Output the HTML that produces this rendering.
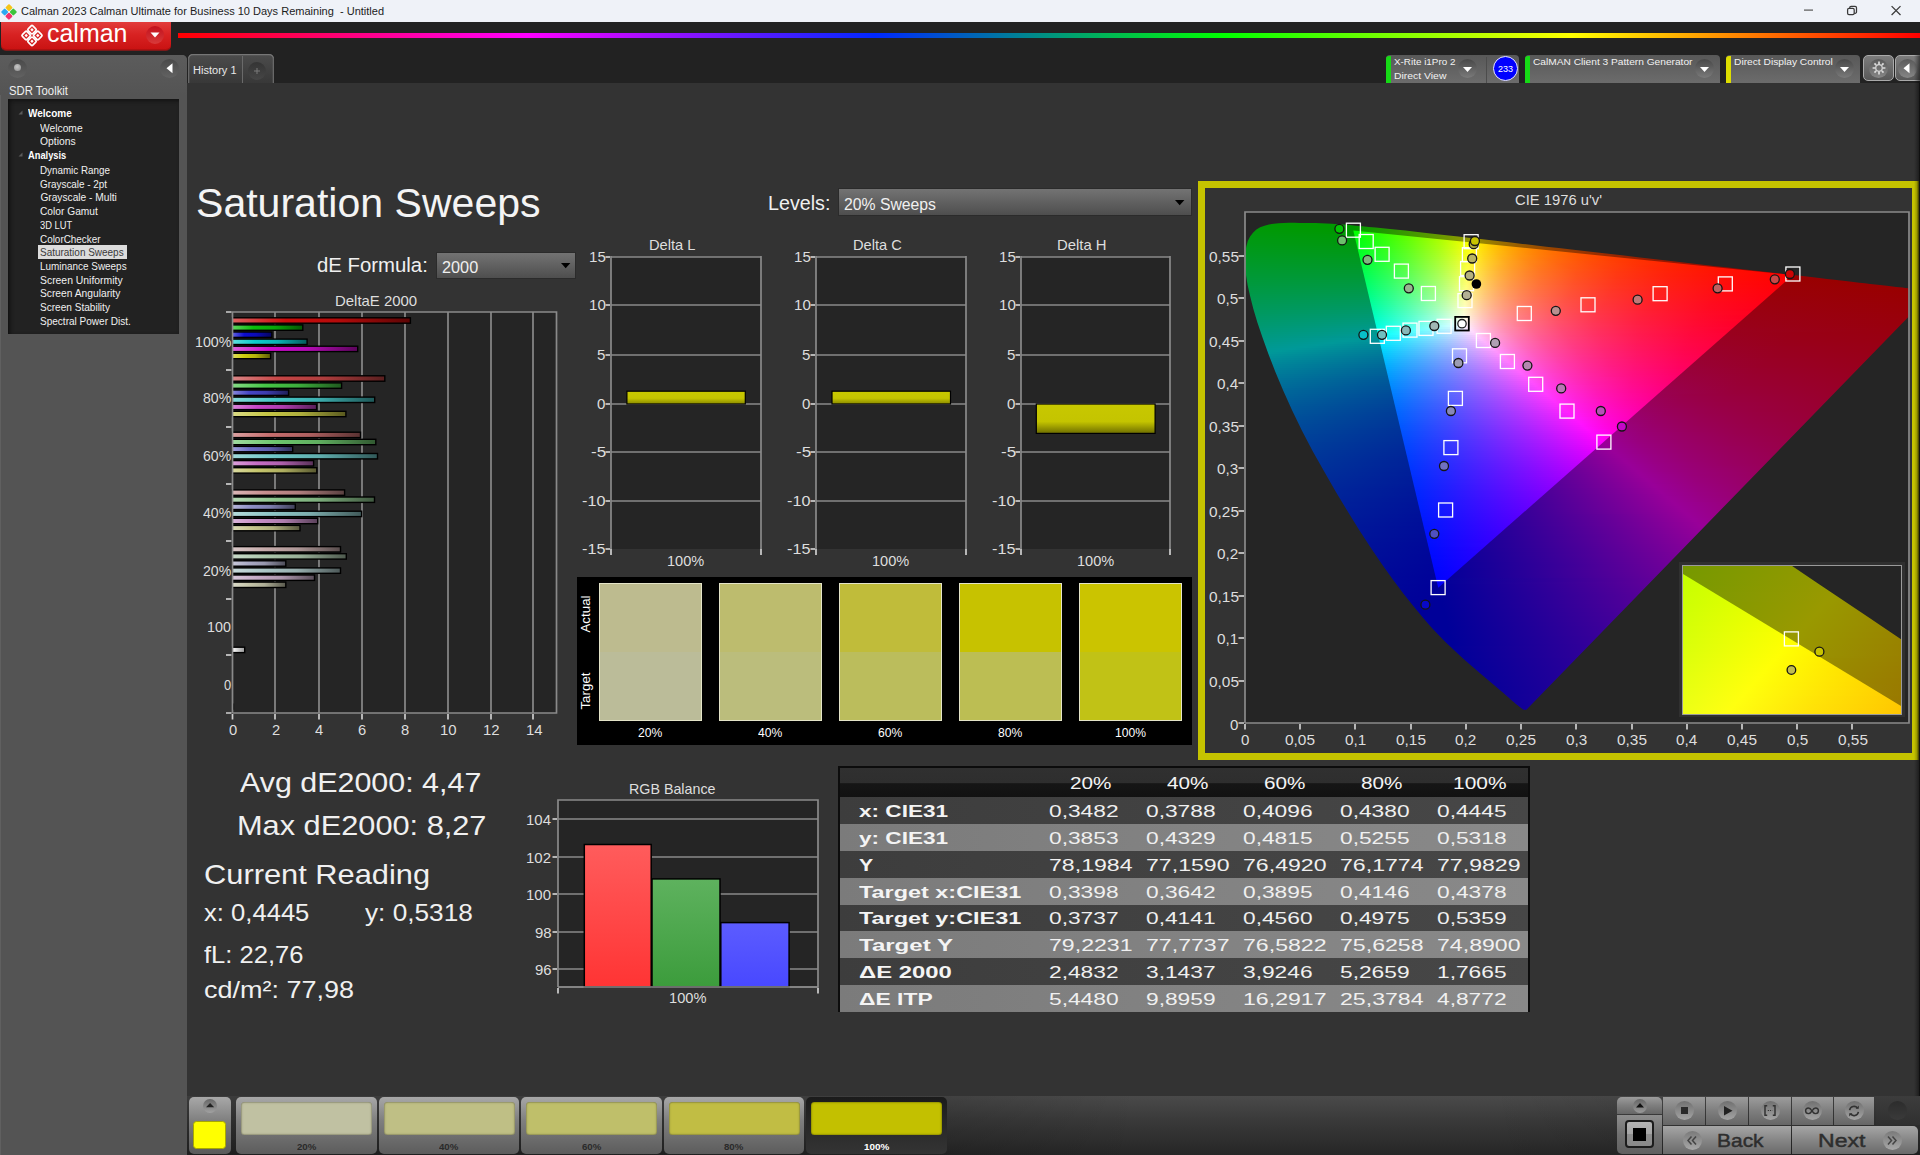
<!DOCTYPE html>
<html><head><meta charset="utf-8"><title>Calman</title>
<style>
html,body{margin:0;padding:0;background:#333;overflow:hidden}
body{width:1920px;height:1155px;position:relative;font-family:"Liberation Sans",sans-serif;color:#e2e2e2}
.a,.t,i,b,u,s{position:absolute;display:block}
.t{white-space:pre;transform-origin:0 50%;line-height:1}
svg{position:absolute;overflow:visible}
.rw i{position:static;display:block;height:2px;width:100%}

</style></head>
<body>
<div class="a" style="left:0;top:0;width:1920px;height:22px;background:#eff2f8"></div>
<svg style="left:1px;top:3.5px" width="16" height="16" viewBox="0 0 16 16">
<rect x="5.2" y="1.0" width="5.4" height="5.4" rx="1" transform="rotate(45 8 3.8)" fill="#f5c518"/>
<rect x="1.0" y="5.3" width="5.4" height="5.4" rx="1" transform="rotate(45 3.7 8)" fill="#2aa8f0"/>
<rect x="9.6" y="5.3" width="5.4" height="5.4" rx="1" transform="rotate(45 12.3 8)" fill="#3cc43c"/>
<rect x="5.2" y="9.6" width="5.4" height="5.4" rx="1" transform="rotate(45 8 12.3)" fill="#f0306c"/>
</svg>
<span class="t" style="left:20.8px;top:5.54px;font-size:11.31px;color:#1c1c1c;transform:scaleX(0.975)">Calman 2023 Calman Ultimate for Business 10 Days Remaining  - Untitled</span>
<svg style="left:1795px;top:0" width="125" height="22" viewBox="0 0 125 22" fill="none" stroke="#3a3a3a" stroke-width="1.25">
<path d="M9 10.100h9" stroke="#5a5a5a"/>
<rect x="52.600" y="8.300" width="6.600" height="6.400" rx="1.400"/><path d="M54.700 8.300v-0.600a1.400 1.400 0 0 1 1.400-1.400h4a1.400 1.400 0 0 1 1.400 1.400v4.200a1.400 1.400 0 0 1-1.400 1.400h-0.900"/>
<path d="M96.600 6.100l8.900 8.900M105.500 6.100l-8.900 8.900"/>
</svg>
<div class="a" style="left:0;top:22px;width:1920px;height:61px;background:#222"></div>
<div class="a" style="left:178px;top:33px;width:1742px;height:5px;background:linear-gradient(90deg,#ff0000 0%,#ff00ff 20%,#0028ff 40%,#00ff00 60%,#ffff00 80%,#ff0000 100%)"></div>
<div class="a" style="left:1px;top:22px;width:170px;height:28px;border-radius:0 0 5px 5px;background:linear-gradient(#e23c3c,#d82222 45%,#c91212);box-shadow:0 1px 0 #7a1a1a, inset 0 -1px 0 #b01010"></div>
<svg style="left:20px;top:24px" width="24" height="24" viewBox="0 0 24 24" fill="none" stroke="#fff" stroke-width="1.7">
<g transform="rotate(45 12 11.5)"><rect x="4.6" y="4.1" width="6.6" height="6.6" rx="1.2"/><rect x="12.8" y="4.1" width="6.6" height="6.6" rx="1.2"/><rect x="4.6" y="12.3" width="6.6" height="6.6" rx="1.2"/><rect x="12.8" y="12.3" width="6.6" height="6.6" rx="1.2"/><g fill="#fff" stroke="none"><rect x="6.700" y="6.200" width="2.400" height="2.400"/><rect x="14.900" y="6.200" width="2.400" height="2.400"/><rect x="6.700" y="14.400" width="2.400" height="2.400"/><rect x="14.900" y="14.400" width="2.400" height="2.400"/></g></g>
</svg>
<span class="t" style="left:46.5px;top:19.90px;font-size:26px;color:#fff;transform:scaleX(0.960)">calman</span>
<div class="a" style="left:146px;top:26px;width:18px;height:18px;border-radius:9px;background:linear-gradient(#c2101c,#d83a3a)"></div>
<svg style="left:150px;top:32px" width="10" height="6"><path d="M0.5 0.5h9l-4.5 5z" fill="#fff"/></svg>
<div class="a" style="left:0;top:55px;width:187px;height:1100px;background:#545454;border-radius:0 5px 0 0;box-shadow:inset 1px 0 0 #606060"></div>
<div class="a" style="left:0;top:55px;width:187px;height:40px;border-radius:0 5px 0 0;background:linear-gradient(#5c5c5c,#545454)"></div>
<div class="a" style="left:8px;top:59px;width:19px;height:19px;border-radius:10px;background:linear-gradient(#4a4a4a,#626262)"></div>
<div class="a" style="left:13.5px;top:63.5px;width:7px;height:7px;border-radius:4px;background:radial-gradient(circle at 45% 40%,#c8c8c8,#8a8a8a)"></div>
<div class="a" style="left:160px;top:59px;width:19px;height:19px;border-radius:10px;background:linear-gradient(#4a4a4a,#626262)"></div>
<svg style="left:166px;top:63px" width="7" height="11"><path d="M6.5 0.3v10L0.5 5.3z" fill="#fff"/></svg>
<span class="t" style="left:8.8px;top:84.36px;font-size:13.27px;color:#efefef;transform:scaleX(0.854)">SDR Toolkit</span>
<div class="a" style="left:8px;top:99px;width:171px;height:234.5px;background:#222;box-shadow:inset 4px 0 4px -2px #111, inset 0 4px 4px -2px #151515"></div>
<div class="a" style="left:38px;top:245.3px;width:89px;height:13.4px;background:#dcdcdc"></div>
<span class="t" style="left:28.0px;top:108.60px;font-size:10.2px;color:#fff;font-weight:700;transform:scaleX(0.983)">Welcome</span>
<svg style="left:18px;top:110.2px" width="5" height="5"><path d="M4.5 0.5v4h-4z" fill="#5a5a5a"/></svg>
<span class="t" style="left:40.4px;top:123.70px;font-size:10.2px;color:#f0f0f0;transform:scaleX(1.008)">Welcome</span>
<span class="t" style="left:40.4px;top:136.70px;font-size:10.2px;color:#f0f0f0;transform:scaleX(1.014)">Options</span>
<span class="t" style="left:28.0px;top:150.55px;font-size:10.2px;color:#fff;font-weight:700;transform:scaleX(0.914)">Analysis</span>
<svg style="left:18px;top:152.4px" width="5" height="5"><path d="M4.5 0.5v4h-4z" fill="#5a5a5a"/></svg>
<span class="t" style="left:40.4px;top:165.65px;font-size:10.2px;color:#f0f0f0;transform:scaleX(0.964)">Dynamic Range</span>
<span class="t" style="left:40.4px;top:179.65px;font-size:10.2px;color:#f0f0f0;transform:scaleX(0.971)">Grayscale - 2pt</span>
<span class="t" style="left:40.4px;top:192.55px;font-size:10.2px;color:#f0f0f0;transform:scaleX(1.000)">Grayscale - Multi</span>
<span class="t" style="left:40.4px;top:206.65px;font-size:10.2px;color:#f0f0f0;transform:scaleX(1.001)">Color Gamut</span>
<span class="t" style="left:40.4px;top:220.55px;font-size:10.2px;color:#f0f0f0;transform:scaleX(0.914)">3D LUT</span>
<span class="t" style="left:40.4px;top:234.60px;font-size:10.2px;color:#f0f0f0;transform:scaleX(0.973)">ColorChecker</span>
<span class="t" style="left:40.4px;top:247.65px;font-size:10.2px;color:#3a3a3a;transform:scaleX(0.978)">Saturation Sweeps</span>
<span class="t" style="left:40.4px;top:261.70px;font-size:10.2px;color:#f0f0f0;transform:scaleX(0.974)">Luminance Sweeps</span>
<span class="t" style="left:40.4px;top:275.70px;font-size:10.2px;color:#f0f0f0;transform:scaleX(1.020)">Screen Uniformity</span>
<span class="t" style="left:40.4px;top:288.55px;font-size:10.2px;color:#f0f0f0;transform:scaleX(1.006)">Screen Angularity</span>
<span class="t" style="left:40.4px;top:302.65px;font-size:10.2px;color:#f0f0f0;transform:scaleX(0.988)">Screen Stability</span>
<span class="t" style="left:40.4px;top:316.65px;font-size:10.2px;color:#f0f0f0;transform:scaleX(0.984)">Spectral Power Dist.</span>
<div class="a" style="left:187.5px;top:54.2px;width:86.5px;height:28.8px;border-radius:5px 5px 0 0;background:linear-gradient(#4c4c4c,#383838);box-shadow:inset 0 1.3px 0 #767676, inset 1.3px 0 0 #686868, inset -1.3px 0 0 #686868"></div>
<div class="a" style="left:241.8px;top:55.5px;width:1.2px;height:27.5px;background:#6a6a6a"></div>
<span class="t" style="left:193.4px;top:64.75px;font-size:10.61px;color:#e8e8e8;transform:scaleX(1.042)">History 1</span>
<div class="a" style="left:247.5px;top:61.5px;width:18.5px;height:18.5px;border-radius:9.500px;background:linear-gradient(#343434,#464646)"></div>
<svg style="left:253px;top:67px" width="8" height="8"><path d="M4 1v6M1 4h6" stroke="#7a7a7a" stroke-width="1" fill="none"/></svg>
<div class="a" style="left:1385.5px;top:54.7px;width:133.5px;height:28.3px;border-radius:4px 4px 0 0;background:linear-gradient(#585858,#6c6c6c)"></div>
<div class="a" style="left:1385.5px;top:55.5px;width:5px;height:27.5px;border-radius:3px 0 0 0;background:#16da16"></div>
<div class="a" style="left:1485.5px;top:57px;width:1.5px;height:26px;background:#4c4c4c"></div>
<span class="t" style="left:1393.6px;top:57.21px;font-size:9.78px;color:#f2f2f2;transform:scaleX(1.010)">X-Rite i1Pro 2</span>
<span class="t" style="left:1393.6px;top:71.31px;font-size:9.78px;color:#f2f2f2;transform:scaleX(1.065)">Direct View</span>
<div class="a" style="left:1457.7px;top:59.2px;width:19.0px;height:19.0px;border-radius:9.5px;background:linear-gradient(#484848,#7a7a7a)"></div>
<svg style="left:1462.7px;top:67.2px" width="9" height="6"><path d="M0 0h9l-4.5 5z" fill="#fff"/></svg>
<div class="a" style="left:1492.5px;top:56.2px;width:25px;height:25px;box-sizing:border-box;border-radius:13px;background:#0000ff;border:1px solid #e8e8ff"></div>
<span class="t" style="left:1497.5px;top:64.69px;font-size:9.22px;color:#fff;transform:scaleX(0.975)">233</span>
<div class="a" style="left:1525px;top:54.7px;width:195px;height:28.3px;border-radius:4px 4px 0 0;background:linear-gradient(#585858,#6c6c6c)"></div>
<div class="a" style="left:1525px;top:55.5px;width:5px;height:27.5px;border-radius:3px 0 0 0;background:#16da16"></div>
<span class="t" style="left:1533.0px;top:57.21px;font-size:9.78px;color:#f2f2f2;transform:scaleX(1.042)">CalMAN Client 3 Pattern Generator</span>
<div class="a" style="left:1695.4px;top:59.2px;width:19.0px;height:19.0px;border-radius:9.5px;background:linear-gradient(#484848,#7a7a7a)"></div>
<svg style="left:1700.4px;top:67.2px" width="9" height="6"><path d="M0 0h9l-4.5 5z" fill="#fff"/></svg>
<div class="a" style="left:1726px;top:54.7px;width:134px;height:28.3px;border-radius:4px 4px 0 0;background:linear-gradient(#585858,#6c6c6c)"></div>
<div class="a" style="left:1726px;top:55.5px;width:5px;height:27.5px;border-radius:3px 0 0 0;background:#dede00"></div>
<span class="t" style="left:1734.0px;top:57.21px;font-size:9.78px;color:#f2f2f2;transform:scaleX(1.046)">Direct Display Control</span>
<div class="a" style="left:1835.4px;top:59.2px;width:19.0px;height:19.0px;border-radius:9.5px;background:linear-gradient(#484848,#7a7a7a)"></div>
<svg style="left:1840.4px;top:67.2px" width="9" height="6"><path d="M0 0h9l-4.5 5z" fill="#fff"/></svg>
<div class="a" style="left:1863px;top:55px;width:31px;height:26px;box-sizing:border-box;border:1px solid #aaa;border-radius:5px;background:linear-gradient(#7c7c7c,#585858)"></div>
<div class="a" style="left:1869px;top:58.5px;width:19px;height:19px;border-radius:10px;background:linear-gradient(#5a5a5a,#868686)"></div>
<svg style="left:1871.5px;top:61px" width="14" height="14" viewBox="-7 -7 14 14"><g fill="none" stroke="#dcdcdc"><circle r="3.3" stroke-width="1.3"/>
<g stroke-width="1.7"><path d="M0-4v-2.4M0 4v2.4M-4 0h-2.4M4 0h2.4M2.83 2.83l1.7 1.7M-2.83 2.83l-1.7 1.7M2.83-2.83l1.7-1.7M-2.83-2.83l-1.7-1.7"/></g></g></svg>
<div class="a" style="left:1894.5px;top:55px;width:31px;height:26px;box-sizing:border-box;border:1px solid #aaa;border-radius:5px;background:linear-gradient(#7c7c7c,#585858)"></div>
<div class="a" style="left:1898px;top:58.5px;width:19px;height:19px;border-radius:10px;background:linear-gradient(#5a5a5a,#868686)"></div>
<svg style="left:1903px;top:63px" width="7" height="11"><path d="M6.5 0.3v10L0.5 5.3z" fill="#fff"/></svg>
<span class="t" style="left:196.3px;top:182.71px;font-size:40.78px;color:#f4f4f4;transform:scaleX(1.007)">Saturation Sweeps</span>
<span class="t" style="left:768.3px;top:193.71px;font-size:19.97px;color:#f0f0f0;transform:scaleX(0.987)">Levels:</span>
<div class="a" style="left:839.3px;top:189.0px;width:351.29999999999995px;height:25.599999999999994px;box-shadow:0 0 0 1px #2b2b2b;background:linear-gradient(#737373,#4e4e4e)"></div>
<svg style="left:1175.3px;top:200.0px" width="10" height="6"><path d="M0 0h9.4l-4.7 5.2z" fill="#000"/></svg>
<span class="t" style="left:844.0px;top:196.62px;font-size:16.76px;color:#f0f0f0;transform:scaleX(0.941)">20% Sweeps</span>
<span class="t" style="left:316.7px;top:255.73px;font-size:19.83px;color:#f0f0f0;transform:scaleX(1.026)">dE Formula:</span>
<div class="a" style="left:437.1px;top:252.7px;width:138.29999999999995px;height:25.19999999999999px;box-shadow:0 0 0 1px #2b2b2b;background:linear-gradient(#737373,#4e4e4e)"></div>
<svg style="left:561.3px;top:263.2px" width="10" height="6"><path d="M0 0h9.4l-4.7 5.2z" fill="#000"/></svg>
<span class="t" style="left:441.7px;top:259.57px;font-size:16.76px;color:#f0f0f0;transform:scaleX(0.971)">2000</span>
<span class="t" style="left:334.6px;top:294.10px;font-size:14.8px;color:#dedede;transform:scaleX(1.009)">DeltaE 2000</span>
<svg style="left:0;top:0" width="1920" height="1155">
<rect x="232.5" y="312" width="324.0" height="401" fill="#252525"/>
<path d="M275 312V713" stroke="#8a8a8a" stroke-width="1.7"/><path d="M275 714v5.5" stroke="#cfcfcf" stroke-width="1.7"/>
<path d="M319 312V713" stroke="#8a8a8a" stroke-width="1.7"/><path d="M319 714v5.5" stroke="#cfcfcf" stroke-width="1.7"/>
<path d="M362 312V713" stroke="#8a8a8a" stroke-width="1.7"/><path d="M362 714v5.5" stroke="#cfcfcf" stroke-width="1.7"/>
<path d="M405 312V713" stroke="#8a8a8a" stroke-width="1.7"/><path d="M405 714v5.5" stroke="#cfcfcf" stroke-width="1.7"/>
<path d="M448 312V713" stroke="#8a8a8a" stroke-width="1.7"/><path d="M448 714v5.5" stroke="#cfcfcf" stroke-width="1.7"/>
<path d="M491 312V713" stroke="#8a8a8a" stroke-width="1.7"/><path d="M491 714v5.5" stroke="#cfcfcf" stroke-width="1.7"/>
<path d="M533 312V713" stroke="#8a8a8a" stroke-width="1.7"/><path d="M533 714v5.5" stroke="#cfcfcf" stroke-width="1.7"/>
<path d="M226.0 370h5.5" stroke="#cfcfcf" stroke-width="1.7"/>
<path d="M226.0 427h5.5" stroke="#cfcfcf" stroke-width="1.7"/>
<path d="M226.0 484h5.5" stroke="#cfcfcf" stroke-width="1.7"/>
<path d="M226.0 541h5.5" stroke="#cfcfcf" stroke-width="1.7"/>
<path d="M226.0 599h5.5" stroke="#cfcfcf" stroke-width="1.7"/>
<path d="M226.0 655h5.5" stroke="#cfcfcf" stroke-width="1.7"/>
<defs>
<linearGradient id="gr20"><stop offset="0" stop-color="#dac9c9"/><stop offset=".3" stop-color="#c6abab"/><stop offset=".6" stop-color="#ae9797"/><stop offset="1" stop-color="#594d4d"/></linearGradient>
<linearGradient id="gr40"><stop offset="0" stop-color="#dab6b6"/><stop offset=".3" stop-color="#c68e8e"/><stop offset=".6" stop-color="#ae7d7d"/><stop offset="1" stop-color="#594040"/></linearGradient>
<linearGradient id="gr60"><stop offset="0" stop-color="#daa0a0"/><stop offset=".3" stop-color="#c66d6d"/><stop offset=".6" stop-color="#ae6060"/><stop offset="1" stop-color="#593131"/></linearGradient>
<linearGradient id="gr80"><stop offset="0" stop-color="#da8686"/><stop offset=".3" stop-color="#c64646"/><stop offset=".6" stop-color="#ae3d3d"/><stop offset="1" stop-color="#591f1f"/></linearGradient>
<linearGradient id="gr100"><stop offset="0" stop-color="#de6161"/><stop offset=".3" stop-color="#cd0c0c"/><stop offset=".6" stop-color="#b40b0b"/><stop offset="1" stop-color="#5c0505"/></linearGradient>
<linearGradient id="gg20"><stop offset="0" stop-color="#c9dac9"/><stop offset=".3" stop-color="#abc6ab"/><stop offset=".6" stop-color="#97ae97"/><stop offset="1" stop-color="#4d594d"/></linearGradient>
<linearGradient id="gg40"><stop offset="0" stop-color="#b6dab6"/><stop offset=".3" stop-color="#8ec68e"/><stop offset=".6" stop-color="#7dae7d"/><stop offset="1" stop-color="#405940"/></linearGradient>
<linearGradient id="gg60"><stop offset="0" stop-color="#a0daa0"/><stop offset=".3" stop-color="#6dc66d"/><stop offset=".6" stop-color="#60ae60"/><stop offset="1" stop-color="#315931"/></linearGradient>
<linearGradient id="gg80"><stop offset="0" stop-color="#86da86"/><stop offset=".3" stop-color="#46c646"/><stop offset=".6" stop-color="#3dae3d"/><stop offset="1" stop-color="#1f591f"/></linearGradient>
<linearGradient id="gg100"><stop offset="0" stop-color="#60d560"/><stop offset=".3" stop-color="#0abe0a"/><stop offset=".6" stop-color="#09a709"/><stop offset="1" stop-color="#045504"/></linearGradient>
<linearGradient id="gb20"><stop offset="0" stop-color="#c9c9da"/><stop offset=".3" stop-color="#ababc6"/><stop offset=".6" stop-color="#9797ae"/><stop offset="1" stop-color="#4d4d59"/></linearGradient>
<linearGradient id="gb40"><stop offset="0" stop-color="#b6b6da"/><stop offset=".3" stop-color="#8e8ec6"/><stop offset=".6" stop-color="#7d7dae"/><stop offset="1" stop-color="#404059"/></linearGradient>
<linearGradient id="gb60"><stop offset="0" stop-color="#a0a0da"/><stop offset=".3" stop-color="#6d6dc6"/><stop offset=".6" stop-color="#6060ae"/><stop offset="1" stop-color="#313159"/></linearGradient>
<linearGradient id="gb80"><stop offset="0" stop-color="#8686da"/><stop offset=".3" stop-color="#4646c6"/><stop offset=".6" stop-color="#3d3dae"/><stop offset="1" stop-color="#1f1f59"/></linearGradient>
<linearGradient id="gb100"><stop offset="0" stop-color="#6161de"/><stop offset=".3" stop-color="#0c0ccd"/><stop offset=".6" stop-color="#0b0bb4"/><stop offset="1" stop-color="#05055c"/></linearGradient>
<linearGradient id="gc20"><stop offset="0" stop-color="#c9dada"/><stop offset=".3" stop-color="#abc6c6"/><stop offset=".6" stop-color="#97aeae"/><stop offset="1" stop-color="#4d5959"/></linearGradient>
<linearGradient id="gc40"><stop offset="0" stop-color="#b6dada"/><stop offset=".3" stop-color="#8ec6c6"/><stop offset=".6" stop-color="#7daeae"/><stop offset="1" stop-color="#405959"/></linearGradient>
<linearGradient id="gc60"><stop offset="0" stop-color="#a0dada"/><stop offset=".3" stop-color="#6dc6c6"/><stop offset=".6" stop-color="#60aeae"/><stop offset="1" stop-color="#315959"/></linearGradient>
<linearGradient id="gc80"><stop offset="0" stop-color="#86dada"/><stop offset=".3" stop-color="#46c6c6"/><stop offset=".6" stop-color="#3daeae"/><stop offset="1" stop-color="#1f5959"/></linearGradient>
<linearGradient id="gc100"><stop offset="0" stop-color="#61dede"/><stop offset=".3" stop-color="#0ccdcd"/><stop offset=".6" stop-color="#0bb4b4"/><stop offset="1" stop-color="#055c5c"/></linearGradient>
<linearGradient id="gm20"><stop offset="0" stop-color="#dac9da"/><stop offset=".3" stop-color="#c6abc6"/><stop offset=".6" stop-color="#ae97ae"/><stop offset="1" stop-color="#594d59"/></linearGradient>
<linearGradient id="gm40"><stop offset="0" stop-color="#dab6da"/><stop offset=".3" stop-color="#c68ec6"/><stop offset=".6" stop-color="#ae7dae"/><stop offset="1" stop-color="#594059"/></linearGradient>
<linearGradient id="gm60"><stop offset="0" stop-color="#daa0da"/><stop offset=".3" stop-color="#c66dc6"/><stop offset=".6" stop-color="#ae60ae"/><stop offset="1" stop-color="#593159"/></linearGradient>
<linearGradient id="gm80"><stop offset="0" stop-color="#da86da"/><stop offset=".3" stop-color="#c646c6"/><stop offset=".6" stop-color="#ae3dae"/><stop offset="1" stop-color="#591f59"/></linearGradient>
<linearGradient id="gm100"><stop offset="0" stop-color="#de61de"/><stop offset=".3" stop-color="#cd0ccd"/><stop offset=".6" stop-color="#b40bb4"/><stop offset="1" stop-color="#5c055c"/></linearGradient>
<linearGradient id="gy20"><stop offset="0" stop-color="#dadac9"/><stop offset=".3" stop-color="#c6c6ab"/><stop offset=".6" stop-color="#aeae97"/><stop offset="1" stop-color="#59594d"/></linearGradient>
<linearGradient id="gy40"><stop offset="0" stop-color="#dadab6"/><stop offset=".3" stop-color="#c6c68e"/><stop offset=".6" stop-color="#aeae7d"/><stop offset="1" stop-color="#595940"/></linearGradient>
<linearGradient id="gy60"><stop offset="0" stop-color="#dadaa0"/><stop offset=".3" stop-color="#c6c66d"/><stop offset=".6" stop-color="#aeae60"/><stop offset="1" stop-color="#595931"/></linearGradient>
<linearGradient id="gy80"><stop offset="0" stop-color="#dada86"/><stop offset=".3" stop-color="#c6c646"/><stop offset=".6" stop-color="#aeae3d"/><stop offset="1" stop-color="#59591f"/></linearGradient>
<linearGradient id="gy100"><stop offset="0" stop-color="#dede61"/><stop offset=".3" stop-color="#cdcd0c"/><stop offset=".6" stop-color="#b4b40b"/><stop offset="1" stop-color="#5c5c05"/></linearGradient>
<linearGradient id="gw"><stop offset="0" stop-color="#fff"/><stop offset="1" stop-color="#999"/></linearGradient>
</defs>
<rect x="232.3" y="317.8" width="178.1" height="5.4" fill="url(#gr100)" stroke="#000" stroke-width="1.4"/>
<rect x="232.3" y="324.9" width="70.5" height="5.4" fill="url(#gg100)" stroke="#000" stroke-width="1.4"/>
<rect x="232.3" y="332.0" width="39.6" height="5.4" fill="url(#gb100)" stroke="#000" stroke-width="1.4"/>
<rect x="232.3" y="339.1" width="74.8" height="5.4" fill="url(#gc100)" stroke="#000" stroke-width="1.4"/>
<rect x="232.3" y="346.2" width="125.4" height="5.4" fill="url(#gm100)" stroke="#000" stroke-width="1.4"/>
<rect x="232.3" y="353.3" width="38.3" height="5.4" fill="url(#gy100)" stroke="#000" stroke-width="1.4"/>
<rect x="232.3" y="375.8" width="152.5" height="5.4" fill="url(#gr80)" stroke="#000" stroke-width="1.4"/>
<rect x="232.3" y="382.9" width="109.3" height="5.4" fill="url(#gg80)" stroke="#000" stroke-width="1.4"/>
<rect x="232.3" y="390.0" width="56.3" height="5.4" fill="url(#gb80)" stroke="#000" stroke-width="1.4"/>
<rect x="232.3" y="397.1" width="142.4" height="5.4" fill="url(#gc80)" stroke="#000" stroke-width="1.4"/>
<rect x="232.3" y="404.2" width="84.3" height="5.4" fill="url(#gm80)" stroke="#000" stroke-width="1.4"/>
<rect x="232.3" y="411.3" width="113.6" height="5.4" fill="url(#gy80)" stroke="#000" stroke-width="1.4"/>
<rect x="232.3" y="432.2" width="128.2" height="5.4" fill="url(#gr60)" stroke="#000" stroke-width="1.4"/>
<rect x="232.3" y="439.3" width="143.5" height="5.4" fill="url(#gg60)" stroke="#000" stroke-width="1.4"/>
<rect x="232.3" y="446.4" width="60.4" height="5.4" fill="url(#gb60)" stroke="#000" stroke-width="1.4"/>
<rect x="232.3" y="453.5" width="145.2" height="5.4" fill="url(#gc60)" stroke="#000" stroke-width="1.4"/>
<rect x="232.3" y="460.6" width="81.3" height="5.4" fill="url(#gm60)" stroke="#000" stroke-width="1.4"/>
<rect x="232.3" y="467.7" width="84.5" height="5.4" fill="url(#gy60)" stroke="#000" stroke-width="1.4"/>
<rect x="232.3" y="489.9" width="112.3" height="5.4" fill="url(#gr40)" stroke="#000" stroke-width="1.4"/>
<rect x="232.3" y="497.0" width="142.2" height="5.4" fill="url(#gg40)" stroke="#000" stroke-width="1.4"/>
<rect x="232.3" y="504.1" width="63.0" height="5.4" fill="url(#gb40)" stroke="#000" stroke-width="1.4"/>
<rect x="232.3" y="511.2" width="129.3" height="5.4" fill="url(#gc40)" stroke="#000" stroke-width="1.4"/>
<rect x="232.3" y="518.3" width="85.4" height="5.4" fill="url(#gm40)" stroke="#000" stroke-width="1.4"/>
<rect x="232.3" y="525.4" width="67.7" height="5.4" fill="url(#gy40)" stroke="#000" stroke-width="1.4"/>
<rect x="232.3" y="546.6" width="108.2" height="5.4" fill="url(#gr20)" stroke="#000" stroke-width="1.4"/>
<rect x="232.3" y="553.7" width="114.0" height="5.4" fill="url(#gg20)" stroke="#000" stroke-width="1.4"/>
<rect x="232.3" y="560.8" width="53.5" height="5.4" fill="url(#gb20)" stroke="#000" stroke-width="1.4"/>
<rect x="232.3" y="567.9" width="108.2" height="5.4" fill="url(#gc20)" stroke="#000" stroke-width="1.4"/>
<rect x="232.3" y="575.0" width="82.2" height="5.4" fill="url(#gm20)" stroke="#000" stroke-width="1.4"/>
<rect x="232.3" y="582.1" width="53.5" height="5.4" fill="url(#gy20)" stroke="#000" stroke-width="1.4"/>
<rect x="232.3" y="647.2" width="12.4" height="5.4" fill="url(#gw)" stroke="#000" stroke-width="1.4"/>
<rect x="233.0" y="704.0" width="0.6" height="5.2" fill="#000" stroke="#000" stroke-width="1"/>
<path d="M232.5 713V312H556.5V713H232.5" stroke="#8a8a8a" stroke-width="1.7" fill="none"/><path d="M232.5 714v5.5M226.0 312h5.5M226.0 713h5.5" stroke="#cfcfcf" stroke-width="1.7"/>
</svg>
<span class="t" style="left:194.8px;top:334.65px;font-size:14.8px;color:#dedede;transform:scaleX(0.961)">100%</span>
<span class="t" style="left:203.0px;top:391.00px;font-size:14.8px;color:#dedede;transform:scaleX(0.952)">80%</span>
<span class="t" style="left:203.0px;top:449.00px;font-size:14.8px;color:#dedede;transform:scaleX(0.952)">60%</span>
<span class="t" style="left:203.0px;top:505.50px;font-size:14.8px;color:#dedede;transform:scaleX(0.952)">40%</span>
<span class="t" style="left:203.0px;top:563.70px;font-size:14.8px;color:#dedede;transform:scaleX(0.952)">20%</span>
<span class="t" style="left:207.3px;top:620.10px;font-size:14.8px;color:#dedede;transform:scaleX(0.967)">100</span>
<span class="t" style="left:224.0px;top:677.60px;font-size:14.8px;color:#dedede;transform:scaleX(0.874)">0</span>
<span class="t" style="left:228.8px;top:722.80px;font-size:14.8px;color:#dedede;transform:scaleX(0.996)">0</span>
<span class="t" style="left:271.8px;top:722.80px;font-size:14.8px;color:#dedede;transform:scaleX(0.996)">2</span>
<span class="t" style="left:314.8px;top:722.80px;font-size:14.8px;color:#dedede;transform:scaleX(0.996)">4</span>
<span class="t" style="left:357.9px;top:722.80px;font-size:14.8px;color:#dedede;transform:scaleX(0.996)">6</span>
<span class="t" style="left:400.9px;top:722.80px;font-size:14.8px;color:#dedede;transform:scaleX(0.996)">8</span>
<span class="t" style="left:439.7px;top:722.80px;font-size:14.8px;color:#dedede;transform:scaleX(1.008)">10</span>
<span class="t" style="left:482.7px;top:722.80px;font-size:14.8px;color:#dedede;transform:scaleX(1.008)">12</span>
<span class="t" style="left:525.7px;top:722.80px;font-size:14.8px;color:#dedede;transform:scaleX(1.008)">14</span>
<svg style="left:0;top:0" width="1920" height="1155">
<rect x="611" y="257" width="150" height="292" fill="#252525"/>
<path d="M611 257H761" stroke="#8a8a8a" stroke-width="1.7"/>
<path d="M605.5 257h4.5" stroke="#cfcfcf" stroke-width="1.7"/>
<path d="M611 305H761" stroke="#8a8a8a" stroke-width="1.7"/>
<path d="M605.5 305h4.5" stroke="#cfcfcf" stroke-width="1.7"/>
<path d="M611 355H761" stroke="#8a8a8a" stroke-width="1.7"/>
<path d="M605.5 355h4.5" stroke="#cfcfcf" stroke-width="1.7"/>
<path d="M611 404H761" stroke="#8a8a8a" stroke-width="1.7"/>
<path d="M605.5 404h4.5" stroke="#cfcfcf" stroke-width="1.7"/>
<path d="M611 452H761" stroke="#8a8a8a" stroke-width="1.7"/>
<path d="M605.5 452h4.5" stroke="#cfcfcf" stroke-width="1.7"/>
<path d="M611 501H761" stroke="#8a8a8a" stroke-width="1.7"/>
<path d="M605.5 501h4.5" stroke="#cfcfcf" stroke-width="1.7"/>
<path d="M605.5 549h4.5" stroke="#cfcfcf" stroke-width="1.7"/>
<path d="M611 256V549M761 256V549" stroke="#8a8a8a" stroke-width="1.7"/>
<path d="M611 549v6M761 549v6" stroke="#cfcfcf" stroke-width="1.7"/>
<defs><linearGradient id="gyL" x1="0" y1="0" x2="0" y2="1"><stop offset="0" stop-color="#c8c800"/><stop offset=".55" stop-color="#c4c400"/><stop offset="1" stop-color="#8a8a00"/></linearGradient></defs>
<rect x="626.9" y="391.2" width="118.39999999999998" height="12.8" fill="url(#gyL)" stroke="#000" stroke-width="1.2"/>
</svg>
<span class="t" style="left:649.0px;top:237.80px;font-size:14.8px;color:#dedede;transform:scaleX(0.992)">Delta L</span>
<span class="t" style="left:589.0px;top:250.10px;font-size:14.8px;color:#dedede;transform:scaleX(1.020)">15</span>
<span class="t" style="left:589.0px;top:298.10px;font-size:14.8px;color:#dedede;transform:scaleX(1.020)">10</span>
<span class="t" style="left:597.4px;top:348.10px;font-size:14.8px;color:#dedede;transform:scaleX(1.020)">5</span>
<span class="t" style="left:597.4px;top:397.10px;font-size:14.8px;color:#dedede;transform:scaleX(1.020)">0</span>
<span class="t" style="left:590.6px;top:445.10px;font-size:14.8px;color:#dedede;transform:scaleX(1.154)">-5</span>
<span class="t" style="left:582.4px;top:494.10px;font-size:14.8px;color:#dedede;transform:scaleX(1.094)">-10</span>
<span class="t" style="left:582.4px;top:542.10px;font-size:14.8px;color:#dedede;transform:scaleX(1.094)">-15</span>
<span class="t" style="left:667.4px;top:553.60px;font-size:14.8px;color:#dedede;transform:scaleX(0.983)">100%</span>
<svg style="left:0;top:0" width="1920" height="1155">
<rect x="816" y="257" width="150" height="292" fill="#252525"/>
<path d="M816 257H966" stroke="#8a8a8a" stroke-width="1.7"/>
<path d="M810.5 257h4.5" stroke="#cfcfcf" stroke-width="1.7"/>
<path d="M816 305H966" stroke="#8a8a8a" stroke-width="1.7"/>
<path d="M810.5 305h4.5" stroke="#cfcfcf" stroke-width="1.7"/>
<path d="M816 355H966" stroke="#8a8a8a" stroke-width="1.7"/>
<path d="M810.5 355h4.5" stroke="#cfcfcf" stroke-width="1.7"/>
<path d="M816 404H966" stroke="#8a8a8a" stroke-width="1.7"/>
<path d="M810.5 404h4.5" stroke="#cfcfcf" stroke-width="1.7"/>
<path d="M816 452H966" stroke="#8a8a8a" stroke-width="1.7"/>
<path d="M810.5 452h4.5" stroke="#cfcfcf" stroke-width="1.7"/>
<path d="M816 501H966" stroke="#8a8a8a" stroke-width="1.7"/>
<path d="M810.5 501h4.5" stroke="#cfcfcf" stroke-width="1.7"/>
<path d="M810.5 549h4.5" stroke="#cfcfcf" stroke-width="1.7"/>
<path d="M816 256V549M966 256V549" stroke="#8a8a8a" stroke-width="1.7"/>
<path d="M816 549v6M966 549v6" stroke="#cfcfcf" stroke-width="1.7"/>
<defs><linearGradient id="gyC" x1="0" y1="0" x2="0" y2="1"><stop offset="0" stop-color="#c8c800"/><stop offset=".55" stop-color="#c4c400"/><stop offset="1" stop-color="#8a8a00"/></linearGradient></defs>
<rect x="832.0" y="391.2" width="118.5" height="12.8" fill="url(#gyC)" stroke="#000" stroke-width="1.2"/>
</svg>
<span class="t" style="left:853.0px;top:237.80px;font-size:14.8px;color:#dedede;transform:scaleX(0.989)">Delta C</span>
<span class="t" style="left:794.0px;top:250.10px;font-size:14.8px;color:#dedede;transform:scaleX(1.020)">15</span>
<span class="t" style="left:794.0px;top:298.10px;font-size:14.8px;color:#dedede;transform:scaleX(1.020)">10</span>
<span class="t" style="left:802.4px;top:348.10px;font-size:14.8px;color:#dedede;transform:scaleX(1.020)">5</span>
<span class="t" style="left:802.4px;top:397.10px;font-size:14.8px;color:#dedede;transform:scaleX(1.020)">0</span>
<span class="t" style="left:795.6px;top:445.10px;font-size:14.8px;color:#dedede;transform:scaleX(1.154)">-5</span>
<span class="t" style="left:787.4px;top:494.10px;font-size:14.8px;color:#dedede;transform:scaleX(1.094)">-10</span>
<span class="t" style="left:787.4px;top:542.10px;font-size:14.8px;color:#dedede;transform:scaleX(1.094)">-15</span>
<span class="t" style="left:872.4px;top:553.60px;font-size:14.8px;color:#dedede;transform:scaleX(0.983)">100%</span>
<svg style="left:0;top:0" width="1920" height="1155">
<rect x="1021" y="257" width="149" height="292" fill="#252525"/>
<path d="M1021 257H1170" stroke="#8a8a8a" stroke-width="1.7"/>
<path d="M1015.5 257h4.5" stroke="#cfcfcf" stroke-width="1.7"/>
<path d="M1021 305H1170" stroke="#8a8a8a" stroke-width="1.7"/>
<path d="M1015.5 305h4.5" stroke="#cfcfcf" stroke-width="1.7"/>
<path d="M1021 355H1170" stroke="#8a8a8a" stroke-width="1.7"/>
<path d="M1015.5 355h4.5" stroke="#cfcfcf" stroke-width="1.7"/>
<path d="M1021 404H1170" stroke="#8a8a8a" stroke-width="1.7"/>
<path d="M1015.5 404h4.5" stroke="#cfcfcf" stroke-width="1.7"/>
<path d="M1021 452H1170" stroke="#8a8a8a" stroke-width="1.7"/>
<path d="M1015.5 452h4.5" stroke="#cfcfcf" stroke-width="1.7"/>
<path d="M1021 501H1170" stroke="#8a8a8a" stroke-width="1.7"/>
<path d="M1015.5 501h4.5" stroke="#cfcfcf" stroke-width="1.7"/>
<path d="M1015.5 549h4.5" stroke="#cfcfcf" stroke-width="1.7"/>
<path d="M1021 256V549M1170 256V549" stroke="#8a8a8a" stroke-width="1.7"/>
<path d="M1021 549v6M1170 549v6" stroke="#cfcfcf" stroke-width="1.7"/>
<defs><linearGradient id="gyH" x1="0" y1="0" x2="0" y2="1"><stop offset="0" stop-color="#c8c800"/><stop offset=".6" stop-color="#c4c400"/><stop offset="1" stop-color="#6e6e00"/></linearGradient></defs>
<rect x="1036.3" y="404.0" width="118.79999999999995" height="29.4" fill="url(#gyH)" stroke="#000" stroke-width="1.2"/>
</svg>
<span class="t" style="left:1057.2px;top:237.80px;font-size:14.8px;color:#dedede;transform:scaleX(1.005)">Delta H</span>
<span class="t" style="left:999.0px;top:250.10px;font-size:14.8px;color:#dedede;transform:scaleX(1.020)">15</span>
<span class="t" style="left:999.0px;top:298.10px;font-size:14.8px;color:#dedede;transform:scaleX(1.020)">10</span>
<span class="t" style="left:1007.4px;top:348.10px;font-size:14.8px;color:#dedede;transform:scaleX(1.020)">5</span>
<span class="t" style="left:1007.4px;top:397.10px;font-size:14.8px;color:#dedede;transform:scaleX(1.020)">0</span>
<span class="t" style="left:1000.6px;top:445.10px;font-size:14.8px;color:#dedede;transform:scaleX(1.154)">-5</span>
<span class="t" style="left:992.4px;top:494.10px;font-size:14.8px;color:#dedede;transform:scaleX(1.094)">-10</span>
<span class="t" style="left:992.4px;top:542.10px;font-size:14.8px;color:#dedede;transform:scaleX(1.094)">-15</span>
<span class="t" style="left:1076.9px;top:553.60px;font-size:14.8px;color:#dedede;transform:scaleX(0.983)">100%</span>
<div class="a" style="left:577px;top:576.5px;width:615px;height:168.5px;background:#000"></div>
<div class="a" style="left:598.5px;top:583.4px;width:103.7px;height:137.6px;box-sizing:border-box;border:1.2px solid #e4e4c8;background:linear-gradient(#bdbb8f 0,#bdbb8f 50%,#bbbc99 50%,#bbbc99 100%)"></div>
<span class="t" style="left:638.1px;top:727.00px;font-size:12.01px;color:#fff;transform:scaleX(1.011)">20%</span>
<div class="a" style="left:718.5px;top:583.4px;width:103.7px;height:137.6px;box-sizing:border-box;border:1.2px solid #e4e4c8;background:linear-gradient(#bdbc6e 0,#bdbc6e 50%,#bbbd7c 50%,#bbbd7c 100%)"></div>
<span class="t" style="left:758.1px;top:727.00px;font-size:12.01px;color:#fff;transform:scaleX(1.011)">40%</span>
<div class="a" style="left:838.5px;top:583.4px;width:103.7px;height:137.6px;box-sizing:border-box;border:1.2px solid #e4e4c8;background:linear-gradient(#c0bc3a 0,#c0bc3a 50%,#bbbd5c 50%,#bbbd5c 100%)"></div>
<span class="t" style="left:878.1px;top:727.00px;font-size:12.01px;color:#fff;transform:scaleX(1.011)">60%</span>
<div class="a" style="left:958.5px;top:583.4px;width:103.7px;height:137.6px;box-sizing:border-box;border:1.2px solid #e4e4c8;background:linear-gradient(#c7c200 0,#c7c200 50%,#bcbe53 50%,#bcbe53 100%)"></div>
<span class="t" style="left:998.1px;top:727.00px;font-size:12.01px;color:#fff;transform:scaleX(1.011)">80%</span>
<div class="a" style="left:1078.5px;top:583.4px;width:103.7px;height:137.6px;box-sizing:border-box;border:1.2px solid #e4e4c8;background:linear-gradient(#cbc400 0,#cbc400 50%,#c1c216 50%,#c1c216 100%)"></div>
<span class="t" style="left:1114.8px;top:727.00px;font-size:12.01px;color:#fff;transform:scaleX(1.010)">100%</span>
<span class="t" style="left:586.3px;top:613.6px;font-size:12.6px;color:#fff;transform-origin:0 0;transform:rotate(-90deg) scaleX(1.06) translate(-50%,-50%)">Actual</span>
<span class="t" style="left:586.3px;top:690.8px;font-size:12.6px;color:#fff;transform-origin:0 0;transform:rotate(-90deg) scaleX(1.06) translate(-50%,-50%)">Target</span>
<span class="t" style="left:240.4px;top:768.15px;font-size:28.49px;color:#f0f0f0;transform:scaleX(1.068)">Avg dE2000: 4,47</span>
<span class="t" style="left:236.5px;top:810.96px;font-size:28.49px;color:#f0f0f0;transform:scaleX(1.079)">Max dE2000: 8,27</span>
<span class="t" style="left:203.6px;top:860.36px;font-size:28.49px;color:#f0f0f0;transform:scaleX(1.082)">Current Reading</span>
<span class="t" style="left:203.6px;top:900.70px;font-size:24.3px;color:#f0f0f0;transform:scaleX(1.054)">x: 0,4445</span>
<span class="t" style="left:364.8px;top:900.70px;font-size:24.3px;color:#f0f0f0;transform:scaleX(1.078)">y: 0,5318</span>
<span class="t" style="left:203.6px;top:942.75px;font-size:24.3px;color:#f0f0f0;transform:scaleX(1.052)">fL: 22,76</span>
<span class="t" style="left:203.6px;top:977.50px;font-size:24.3px;color:#f0f0f0;transform:scaleX(1.111)">cd/m²: 77,98</span>
<svg style="left:0;top:0" width="1920" height="1155">
<rect x="558" y="800" width="260" height="187" fill="#252525"/>
<path d="M558 819H818" stroke="#8a8a8a" stroke-width="1.7"/><path d="M552.5 819h4.5" stroke="#cfcfcf" stroke-width="1.7"/>
<path d="M558 857H818" stroke="#8a8a8a" stroke-width="1.7"/><path d="M552.5 857h4.5" stroke="#cfcfcf" stroke-width="1.7"/>
<path d="M558 894H818" stroke="#8a8a8a" stroke-width="1.7"/><path d="M552.5 894h4.5" stroke="#cfcfcf" stroke-width="1.7"/>
<path d="M558 932H818" stroke="#8a8a8a" stroke-width="1.7"/><path d="M552.5 932h4.5" stroke="#cfcfcf" stroke-width="1.7"/>
<path d="M558 969H818" stroke="#8a8a8a" stroke-width="1.7"/><path d="M552.5 969h4.5" stroke="#cfcfcf" stroke-width="1.7"/>
<path d="M558 987V800H818V987H558" stroke="#8a8a8a" stroke-width="1.7" fill="none"/><path d="M558 988v5.5M818 988v5.5" stroke="#cfcfcf" stroke-width="1.7"/>
<defs><linearGradient id="br" x1="0" y1="0" x2="0" y2="1"><stop offset="0" stop-color="#ff5c5c"/><stop offset="1" stop-color="#ff3434"/></linearGradient><linearGradient id="bg" x1="0" y1="0" x2="0" y2="1"><stop offset="0" stop-color="#5eb25e"/><stop offset="1" stop-color="#3c9c3c"/></linearGradient><linearGradient id="bb" x1="0" y1="0" x2="0" y2="1"><stop offset="0" stop-color="#5c5cff"/><stop offset="1" stop-color="#4848ff"/></linearGradient></defs>
<rect x="584.3" y="844.5" width="66.90000000000005" height="142.5" fill="url(#br)" stroke="#000" stroke-width="1.5"/>
<rect x="652.0" y="878.9" width="67.99999999999996" height="108.10000000000002" fill="url(#bg)" stroke="#000" stroke-width="1.5"/>
<rect x="720.8" y="922.6" width="68.30000000000003" height="64.39999999999998" fill="url(#bb)" stroke="#000" stroke-width="1.5"/>
<path d="M558 987H818" stroke="#8a8a8a" stroke-width="1.7"/>
</svg>
<span class="t" style="left:629.0px;top:781.65px;font-size:14.8px;color:#dedede;transform:scaleX(0.965)">RGB Balance</span>
<span class="t" style="left:526.3px;top:812.50px;font-size:14.8px;color:#dedede;transform:scaleX(1.012)">104</span>
<span class="t" style="left:526.3px;top:850.50px;font-size:14.8px;color:#dedede;transform:scaleX(1.012)">102</span>
<span class="t" style="left:526.3px;top:887.50px;font-size:14.8px;color:#dedede;transform:scaleX(1.012)">100</span>
<span class="t" style="left:534.7px;top:925.50px;font-size:14.8px;color:#dedede;transform:scaleX(1.008)">98</span>
<span class="t" style="left:534.7px;top:962.50px;font-size:14.8px;color:#dedede;transform:scaleX(1.008)">96</span>
<span class="t" style="left:669.3px;top:990.80px;font-size:14.8px;color:#dedede;transform:scaleX(0.988)">100%</span>
<div class="a" style="left:838px;top:765.9px;width:692.0px;height:246.2px;background:#0c0c0c"></div>
<div class="a" style="left:840px;top:767.9px;width:687.8px;height:29.8px;background:linear-gradient(#303030 0,#2e2e2e 50%,#161616 52%,#111 100%)"></div>
<div class="a" style="left:840px;top:797.4px;width:687.8px;height:27.4px;background:linear-gradient(90deg,#3d3d3d,#474747)"></div>
<span class="t" style="left:859.3px;top:803.62px;font-size:16.76px;color:#f4f4f4;font-weight:700;transform:scaleX(1.349)">x: CIE31</span>
<span class="t" style="left:1048.9px;top:803.62px;font-size:16.76px;color:#f0f0f0;transform:scaleX(1.358)">0,3482</span>
<span class="t" style="left:1146.2px;top:803.62px;font-size:16.76px;color:#f0f0f0;transform:scaleX(1.358)">0,3788</span>
<span class="t" style="left:1243.1px;top:803.62px;font-size:16.76px;color:#f0f0f0;transform:scaleX(1.358)">0,4096</span>
<span class="t" style="left:1340.4px;top:803.62px;font-size:16.76px;color:#f0f0f0;transform:scaleX(1.358)">0,4380</span>
<span class="t" style="left:1437.2px;top:803.62px;font-size:16.76px;color:#f0f0f0;transform:scaleX(1.358)">0,4445</span>
<div class="a" style="left:840px;top:824.2px;width:687.8px;height:27.4px;background:linear-gradient(90deg,#7b7b7b,#898989)"></div>
<span class="t" style="left:859.3px;top:830.67px;font-size:16.76px;color:#f4f4f4;font-weight:700;transform:scaleX(1.349)">y: CIE31</span>
<span class="t" style="left:1048.9px;top:830.67px;font-size:16.76px;color:#f0f0f0;transform:scaleX(1.358)">0,3853</span>
<span class="t" style="left:1146.2px;top:830.67px;font-size:16.76px;color:#f0f0f0;transform:scaleX(1.358)">0,4329</span>
<span class="t" style="left:1243.1px;top:830.67px;font-size:16.76px;color:#f0f0f0;transform:scaleX(1.358)">0,4815</span>
<span class="t" style="left:1340.4px;top:830.67px;font-size:16.76px;color:#f0f0f0;transform:scaleX(1.358)">0,5255</span>
<span class="t" style="left:1437.2px;top:830.67px;font-size:16.76px;color:#f0f0f0;transform:scaleX(1.358)">0,5318</span>
<div class="a" style="left:840px;top:851.0px;width:687.8px;height:27.4px;background:linear-gradient(90deg,#3d3d3d,#474747)"></div>
<span class="t" style="left:859.3px;top:857.72px;font-size:16.76px;color:#f4f4f4;font-weight:700;transform:scaleX(1.269)">Y</span>
<span class="t" style="left:1048.9px;top:857.72px;font-size:16.76px;color:#f0f0f0;transform:scaleX(1.380)">78,1984</span>
<span class="t" style="left:1146.2px;top:857.72px;font-size:16.76px;color:#f0f0f0;transform:scaleX(1.380)">77,1590</span>
<span class="t" style="left:1243.1px;top:857.72px;font-size:16.76px;color:#f0f0f0;transform:scaleX(1.380)">76,4920</span>
<span class="t" style="left:1340.4px;top:857.72px;font-size:16.76px;color:#f0f0f0;transform:scaleX(1.380)">76,1774</span>
<span class="t" style="left:1437.2px;top:857.72px;font-size:16.76px;color:#f0f0f0;transform:scaleX(1.380)">77,9829</span>
<div class="a" style="left:840px;top:877.8px;width:687.8px;height:27.4px;background:linear-gradient(90deg,#7b7b7b,#898989)"></div>
<span class="t" style="left:859.3px;top:884.52px;font-size:16.76px;color:#f4f4f4;font-weight:700;transform:scaleX(1.398)">Target x:CIE31</span>
<span class="t" style="left:1048.9px;top:884.52px;font-size:16.76px;color:#f0f0f0;transform:scaleX(1.358)">0,3398</span>
<span class="t" style="left:1146.2px;top:884.52px;font-size:16.76px;color:#f0f0f0;transform:scaleX(1.358)">0,3642</span>
<span class="t" style="left:1243.1px;top:884.52px;font-size:16.76px;color:#f0f0f0;transform:scaleX(1.358)">0,3895</span>
<span class="t" style="left:1340.4px;top:884.52px;font-size:16.76px;color:#f0f0f0;transform:scaleX(1.358)">0,4146</span>
<span class="t" style="left:1437.2px;top:884.52px;font-size:16.76px;color:#f0f0f0;transform:scaleX(1.358)">0,4378</span>
<div class="a" style="left:840px;top:904.6px;width:687.8px;height:27.4px;background:linear-gradient(90deg,#3d3d3d,#474747)"></div>
<span class="t" style="left:859.3px;top:910.57px;font-size:16.76px;color:#f4f4f4;font-weight:700;transform:scaleX(1.398)">Target y:CIE31</span>
<span class="t" style="left:1048.9px;top:910.57px;font-size:16.76px;color:#f0f0f0;transform:scaleX(1.358)">0,3737</span>
<span class="t" style="left:1146.2px;top:910.57px;font-size:16.76px;color:#f0f0f0;transform:scaleX(1.358)">0,4141</span>
<span class="t" style="left:1243.1px;top:910.57px;font-size:16.76px;color:#f0f0f0;transform:scaleX(1.358)">0,4560</span>
<span class="t" style="left:1340.4px;top:910.57px;font-size:16.76px;color:#f0f0f0;transform:scaleX(1.358)">0,4975</span>
<span class="t" style="left:1437.2px;top:910.57px;font-size:16.76px;color:#f0f0f0;transform:scaleX(1.358)">0,5359</span>
<div class="a" style="left:840px;top:931.4px;width:687.8px;height:27.4px;background:linear-gradient(90deg,#7b7b7b,#898989)"></div>
<span class="t" style="left:859.3px;top:937.62px;font-size:16.76px;color:#f4f4f4;font-weight:700;transform:scaleX(1.435)">Target Y</span>
<span class="t" style="left:1048.9px;top:937.62px;font-size:16.76px;color:#f0f0f0;transform:scaleX(1.380)">79,2231</span>
<span class="t" style="left:1146.2px;top:937.62px;font-size:16.76px;color:#f0f0f0;transform:scaleX(1.380)">77,7737</span>
<span class="t" style="left:1243.1px;top:937.62px;font-size:16.76px;color:#f0f0f0;transform:scaleX(1.380)">76,5822</span>
<span class="t" style="left:1340.4px;top:937.62px;font-size:16.76px;color:#f0f0f0;transform:scaleX(1.380)">75,6258</span>
<span class="t" style="left:1437.2px;top:937.62px;font-size:16.76px;color:#f0f0f0;transform:scaleX(1.380)">74,8900</span>
<div class="a" style="left:840px;top:958.2px;width:687.8px;height:27.4px;background:linear-gradient(90deg,#3d3d3d,#474747)"></div>
<span class="t" style="left:859.3px;top:964.67px;font-size:16.76px;color:#f4f4f4;font-weight:700;transform:scaleX(1.426)">ΔE 2000</span>
<span class="t" style="left:1048.9px;top:964.67px;font-size:16.76px;color:#f0f0f0;transform:scaleX(1.358)">2,4832</span>
<span class="t" style="left:1146.2px;top:964.67px;font-size:16.76px;color:#f0f0f0;transform:scaleX(1.358)">3,1437</span>
<span class="t" style="left:1243.1px;top:964.67px;font-size:16.76px;color:#f0f0f0;transform:scaleX(1.358)">3,9246</span>
<span class="t" style="left:1340.4px;top:964.67px;font-size:16.76px;color:#f0f0f0;transform:scaleX(1.358)">5,2659</span>
<span class="t" style="left:1437.2px;top:964.67px;font-size:16.76px;color:#f0f0f0;transform:scaleX(1.358)">1,7665</span>
<div class="a" style="left:840px;top:985.0px;width:687.8px;height:26.9px;background:linear-gradient(90deg,#7b7b7b,#898989)"></div>
<span class="t" style="left:859.3px;top:991.72px;font-size:16.76px;color:#f4f4f4;font-weight:700;transform:scaleX(1.366)">ΔE ITP</span>
<span class="t" style="left:1048.9px;top:991.72px;font-size:16.76px;color:#f0f0f0;transform:scaleX(1.358)">5,4480</span>
<span class="t" style="left:1146.2px;top:991.72px;font-size:16.76px;color:#f0f0f0;transform:scaleX(1.358)">9,8959</span>
<span class="t" style="left:1243.1px;top:991.72px;font-size:16.76px;color:#f0f0f0;transform:scaleX(1.380)">16,2917</span>
<span class="t" style="left:1340.4px;top:991.72px;font-size:16.76px;color:#f0f0f0;transform:scaleX(1.380)">25,3784</span>
<span class="t" style="left:1437.2px;top:991.72px;font-size:16.76px;color:#f0f0f0;transform:scaleX(1.358)">4,8772</span>
<span class="t" style="left:1070.0px;top:775.64px;font-size:15.92px;color:#f4f4f4;transform:scaleX(1.303)">20%</span>
<span class="t" style="left:1166.8px;top:775.64px;font-size:15.92px;color:#f4f4f4;transform:scaleX(1.303)">40%</span>
<span class="t" style="left:1264.2px;top:775.64px;font-size:15.92px;color:#f4f4f4;transform:scaleX(1.303)">60%</span>
<span class="t" style="left:1361.3px;top:775.64px;font-size:15.92px;color:#f4f4f4;transform:scaleX(1.303)">80%</span>
<span class="t" style="left:1453.0px;top:775.64px;font-size:15.92px;color:#f4f4f4;transform:scaleX(1.315)">100%</span>
<div class="a" style="left:1198.2px;top:180.8px;width:720.6px;height:579px;box-sizing:border-box;border:7.4px solid #c5c300;background:#333"></div>
<div class="a" style="left:1917px;top:181px;width:2px;height:579px;background:linear-gradient(90deg,rgba(90,88,0,0),rgba(70,68,0,.75))"></div>
<div class="a" style="left:1919px;top:83px;width:1px;height:1013px;background:#1e1e1e"></div>
<span class="t" style="left:1515.0px;top:193.24px;font-size:14.53px;color:#dedede;transform:scaleX(1.018)">CIE 1976 u&#x27;v&#x27;</span>
<div class="a" style="left:1245px;top:212px;width:664px;height:511px;background:#252525"></div>
<div class="a rw" style="left:1245px;top:212px;width:664px;height:511px;clip-path:polygon(281.4px 497.8px,281.3px 497.8px,281.1px 497.8px,280.8px 497.8px,280.6px 497.8px,280.4px 497.8px,280.1px 497.8px,279.8px 497.9px,279.6px 497.9px,279.2px 497.9px,278.7px 497.7px,278.2px 497.4px,277.5px 497.0px,276.7px 496.5px,275.8px 495.8px,274.7px 495.0px,273.6px 494.1px,272.3px 493.1px,270.9px 491.9px,269.3px 490.5px,267.4px 488.9px,265.4px 487.2px,263.3px 485.3px,260.9px 483.2px,258.4px 481.0px,255.7px 478.7px,252.8px 476.2px,249.6px 473.4px,246.0px 470.4px,242.1px 467.2px,238.0px 463.7px,233.6px 460.0px,229.0px 456.1px,224.0px 451.8px,218.6px 447.0px,212.9px 441.8px,206.8px 436.1px,200.4px 429.9px,193.6px 423.1px,186.0px 414.9px,177.6px 405.2px,168.3px 394.1px,158.5px 381.7px,148.2px 367.9px,137.3px 352.7px,126.1px 336.3px,114.5px 318.4px,102.6px 299.3px,90.8px 279.7px,79.2px 259.6px,67.6px 238.9px,56.9px 218.6px,47.2px 198.5px,38.3px 178.7px,30.4px 159.9px,23.5px 142.2px,17.5px 125.6px,12.4px 110.4px,8.3px 96.8px,5.2px 84.6px,2.7px 73.6px,1.1px 63.8px,0.2px 55.2px,-0.0px 47.5px,0.3px 40.5px,1.3px 34.4px,2.8px 29.1px,5.1px 24.5px,8.0px 20.7px,11.4px 17.6px,15.2px 15.3px,19.5px 13.7px,24.0px 12.5px,28.8px 11.7px,33.7px 11.3px,38.8px 11.0px,44.0px 10.8px,49.3px 10.8px,54.6px 10.9px,59.9px 10.9px,65.1px 10.9px,70.4px 11.1px,75.8px 11.3px,81.3px 11.5px,86.9px 11.8px,92.6px 12.2px,98.5px 12.6px,104.6px 13.1px,110.8px 13.7px,117.2px 14.2px,123.9px 14.9px,130.7px 15.5px,137.7px 16.2px,145.0px 17.0px,152.6px 17.8px,160.4px 18.6px,168.5px 19.5px,176.9px 20.4px,185.5px 21.4px,194.5px 22.4px,203.7px 23.5px,213.3px 24.5px,223.2px 25.7px,233.4px 26.8px,243.9px 28.0px,254.8px 29.3px,266.0px 30.6px,277.5px 31.9px,289.2px 33.3px,301.3px 34.7px,313.7px 36.1px,326.4px 37.5px,339.3px 39.0px,352.4px 40.5px,365.7px 42.1px,379.1px 43.6px,392.7px 45.2px,406.1px 46.7px,419.3px 48.2px,432.3px 49.7px,445.2px 51.2px,458.1px 52.7px,470.9px 54.2px,483.3px 55.6px,495.2px 57.0px,506.8px 58.3px,517.8px 59.5px,528.5px 60.8px,538.6px 61.9px,548.3px 63.1px,557.5px 64.1px,566.1px 65.1px,574.3px 66.1px,582.0px 66.9px,589.2px 67.8px,596.0px 68.6px,602.5px 69.3px,608.5px 70.0px,614.3px 70.7px,619.9px 71.3px,625.2px 71.9px,630.2px 72.5px,635.0px 73.1px,639.5px 73.6px,643.7px 74.1px,647.6px 74.5px,651.2px 74.9px,654.5px 75.3px,657.6px 75.6px,660.4px 76.0px,663.0px 76.3px,665.4px 76.5px,667.5px 76.8px,669.5px 77.0px,671.4px 77.2px,673.0px 77.4px,674.4px 77.6px,675.7px 77.7px,676.7px 77.8px,677.6px 77.9px,678.6px 78.1px,679.5px 78.2px,680.3px 78.3px,681.0px 78.3px,681.7px 78.4px,682.3px 78.5px,683.0px 78.6px,683.7px 78.7px,684.4px 78.7px,685.0px 78.8px,685.7px 78.9px,686.2px 78.9px,686.7px 79.0px,687.0px 79.0px,687.4px 79.1px,687.6px 79.1px,687.8px 79.1px,688.0px 79.1px,688.1px 79.2px,688.2px 79.2px,688.3px 79.2px)">
<i></i>
<i></i>
<i></i>
<i></i>
<i></i>
<i style="background:linear-gradient(90deg,#009901 25px,#009900 91px)"></i>
<i style="background:linear-gradient(90deg,#009903 17px,#009900 53px,#009900 107px,#099900 116px)"></i>
<i style="background:linear-gradient(90deg,#009905 13px,#009900 73px,#009900 107px,#1f9900 137px)"></i>
<i style="background:linear-gradient(90deg,#009907 9px,#009900 108px,#349900 156px)"></i>
<i style="background:linear-gradient(90deg,#009909 7px,#009900 108px,#229900 141px,#4a9900 174px)"></i>
<i style="background:linear-gradient(90deg,#00990b 6px,#009902 109px,#2f9900 152px,#639900 192px)"></i>
<i style="background:linear-gradient(90deg,#00990d 4px,#009905 109px,#1b9902 135px,#3b9900 162px,#5c9900 187px,#7e9900 210px)"></i>
<i style="background:linear-gradient(90deg,#00990f 3px,#009907 110px,#209904 140px,#439900 169px,#6d9900 199px,#999900 226px,#999600 228px)"></i>
<i style="background:linear-gradient(90deg,#009911 2px,#009909 110px,#289905 147px,#469903 171px,#6d9900 199px,#979900 225px,#997c00 245px)"></i>
<i style="background:linear-gradient(90deg,#009913 1px,#00990b 111px,#479905 172px,#6d9902 199px,#989900 225px,#997d00 244px,#996900 262px)"></i>
<i style="background:linear-gradient(90deg,#009914 0px,#00990d 111px,#5a9906 186px,#989901 225px,#997400 251px,#995800 280px)"></i>
<i style="background:linear-gradient(90deg,#009916 0px,#00990f 112px,#789906 206px,#989904 225px,#998101 241px,#996d00 257px,#995b00 276px,#994b00 297px)"></i>
<i style="background:linear-gradient(90deg,#009918 0px,#009912 112px,#059911 117px,#999706 226px,#997c03 244px,#996501 264px,#995200 287px,#994000 314px)"></i>
<i style="background:linear-gradient(90deg,#00991a 0px,#009914 113px,#997906 246px,#996503 264px,#995301 284px,#994400 307px,#993700 332px)"></i>
<i style="background:linear-gradient(90deg,#00991c 0px,#009916 113px,#059916 118px,#996405 265px,#994601 302px,#992f00 349px)"></i>
<i style="background:linear-gradient(90deg,#00991e 0px,#009918 114px,#069918 119px,#995204 285px,#993b01 322px,#992800 367px)"></i>
<i style="background:linear-gradient(90deg,#009920 0px,#00991b 114px,#05991a 119px,#994404 305px,#993101 341px,#992200 384px)"></i>
<i style="background:linear-gradient(90deg,#009922 0px,#00991d 114px,#06991d 120px,#993804 325px,#992901 360px,#991c00 401px)"></i>
<i style="background:linear-gradient(90deg,#009924 0px,#009920 115px,#05991f 120px,#992f03 345px,#992301 379px,#991800 419px)"></i>
<i style="background:linear-gradient(90deg,#009926 0px,#009922 115px,#069922 121px,#992703 365px,#991300 436px)"></i>
<i style="background:linear-gradient(90deg,#009928 0px,#009924 116px,#059924 121px,#992003 384px,#991000 453px)"></i>
<i style="background:linear-gradient(90deg,#00992a 0px,#009927 116px,#059927 121px,#991a03 404px,#990c00 471px)"></i>
<i style="background:linear-gradient(90deg,#00992c 0px,#009929 117px,#069929 122px,#991502 424px,#990900 488px)"></i>
<i style="background:linear-gradient(90deg,#00992e 0px,#00992c 117px,#05992c 122px,#991102 444px,#990600 506px)"></i>
<i style="background:linear-gradient(90deg,#009930 0px,#00992f 117px,#06992e 123px,#990c02 464px,#990400 523px)"></i>
<i style="background:linear-gradient(90deg,#009932 0px,#009931 118px,#059931 123px,#990902 483px,#990100 541px)"></i>
<i style="background:linear-gradient(90deg,#009934 0px,#009934 118px,#069934 124px,#990602 503px,#990000 558px)"></i>
<i style="background:linear-gradient(90deg,#009936 0px,#009936 119px,#059936 124px,#990302 523px,#990000 575px)"></i>
<i style="background:linear-gradient(90deg,#009938 0px,#009939 119px,#069939 125px,#990102 537px,#990000 593px)"></i>
<i style="background:linear-gradient(90deg,#00993a 0px,#00993c 120px,#05993c 125px,#990103 534px,#990000 610px)"></i>
<i style="background:linear-gradient(90deg,#00993c 1px,#00993f 120px,#06993f 126px,#990104 532px,#990000 627px)"></i>
<i style="background:linear-gradient(90deg,#00993e 1px,#009942 121px,#069942 126px,#990105 530px,#990000 645px)"></i>
<i style="background:linear-gradient(90deg,#009941 1px,#009944 121px,#069945 127px,#990106 528px,#990000 662px)"></i>
<i style="background:linear-gradient(90deg,#009943 2px,#009947 122px,#069948 127px,#990107 525px,#990001 664px)"></i>
<i style="background:linear-gradient(90deg,#009945 2px,#00994a 122px,#06994b 128px,#990108 523px,#990001 664px)"></i>
<i style="background:linear-gradient(90deg,#009947 3px,#00994d 123px,#06994e 128px,#990109 521px,#990002 664px)"></i>
<i style="background:linear-gradient(90deg,#00994a 3px,#009950 123px,#079951 129px,#990109 519px,#990003 664px)"></i>
<i style="background:linear-gradient(90deg,#00994c 4px,#009953 124px,#069954 129px,#99010b 516px,#990003 664px)"></i>
<i style="background:linear-gradient(90deg,#00994e 4px,#009956 124px,#079957 130px,#99010c 514px,#990004 664px)"></i>
<i style="background:linear-gradient(90deg,#009951 5px,#00995a 125px,#06995a 130px,#99010d 512px,#990004 664px)"></i>
<i style="background:linear-gradient(90deg,#009953 5px,#00995d 125px,#07995d 131px,#99010e 510px,#990005 664px)"></i>
<i style="background:linear-gradient(90deg,#009956 6px,#009960 126px,#069961 131px,#99010f 507px,#990006 664px)"></i>
<i style="background:linear-gradient(90deg,#009958 6px,#009963 126px,#069964 131px,#990110 505px,#990006 664px)"></i>
<i style="background:linear-gradient(90deg,#00995a 7px,#009966 126px,#069967 132px,#990111 503px,#990007 664px)"></i>
<i style="background:linear-gradient(90deg,#00995d 7px,#00996a 127px,#06996b 132px,#990112 500px,#990007 664px)"></i>
<i style="background:linear-gradient(90deg,#00995f 8px,#00996d 127px,#07996e 133px,#990113 498px,#990008 664px)"></i>
<i style="background:linear-gradient(90deg,#009962 8px,#009971 128px,#069972 133px,#990114 496px,#990009 664px)"></i>
<i style="background:linear-gradient(90deg,#009965 9px,#009974 128px,#079975 134px,#990115 494px,#990009 664px)"></i>
<i style="background:linear-gradient(90deg,#009967 10px,#009978 129px,#069979 134px,#990116 491px,#99000a 664px)"></i>
<i style="background:linear-gradient(90deg,#00996a 10px,#00997b 129px,#07997d 135px,#990118 489px,#99000b 662px)"></i>
<i style="background:linear-gradient(90deg,#00996d 11px,#00997f 130px,#069980 135px,#990119 487px,#99000b 660px)"></i>
<i style="background:linear-gradient(90deg,#00996f 11px,#009983 130px,#079984 136px,#99011a 485px,#99000c 658px)"></i>
<i style="background:linear-gradient(90deg,#009972 12px,#009987 131px,#079988 136px,#99011b 482px,#99000d 656px)"></i>
<i style="background:linear-gradient(90deg,#009975 13px,#00998b 131px,#07998c 137px,#99011d 480px,#99000e 654px)"></i>
<i style="background:linear-gradient(90deg,#009978 13px,#009982 77px,#00998f 132px,#079990 137px,#99011e 478px,#99000e 652px)"></i>
<i style="background:linear-gradient(90deg,#00997b 14px,#009986 77px,#009992 132px,#089994 138px,#99011f 476px,#990016 554px,#99000f 650px)"></i>
<i style="background:linear-gradient(90deg,#00997e 15px,#009989 78px,#009997 133px,#079998 138px,#990120 473px,#990017 551px,#990010 648px)"></i>
<i style="background:linear-gradient(90deg,#009980 15px,#009799 133px,#089699 139px,#990122 471px,#990018 549px,#990011 646px)"></i>
<i style="background:linear-gradient(90deg,#009983 16px,#009999 114px,#009399 134px,#079299 139px,#990123 469px,#990019 547px,#990011 644px)"></i>
<i style="background:linear-gradient(90deg,#009986 17px,#009999 100px,#009099 134px,#078e99 140px,#990125 466px,#99001a 545px,#990012 642px)"></i>
<i style="background:linear-gradient(90deg,#00998a 18px,#009999 87px,#008c99 135px,#078a99 140px,#990126 464px,#99001b 543px,#990013 640px)"></i>
<i style="background:linear-gradient(90deg,#00998d 18px,#009999 73px,#008899 135px,#068799 140px,#990127 462px,#99001c 541px,#990014 638px)"></i>
<i style="background:linear-gradient(90deg,#009990 19px,#009999 60px,#008599 136px,#068399 141px,#990129 460px,#99001e 538px,#990015 636px)"></i>
<i style="background:linear-gradient(90deg,#009993 20px,#009999 47px,#008299 136px,#068099 141px,#99012a 457px,#99001f 536px,#990015 635px)"></i>
<i style="background:linear-gradient(90deg,#009996 20px,#009999 33px,#007e99 137px,#067d99 142px,#99012c 455px,#990020 534px,#990016 633px)"></i>
<i style="background:linear-gradient(90deg,#009999 21px,#007b99 137px,#067a99 142px,#99012d 453px,#990021 532px,#990017 631px)"></i>
<i style="background:linear-gradient(90deg,#009599 22px,#007899 138px,#067799 143px,#99012f 451px,#990022 530px,#990018 629px)"></i>
<i style="background:linear-gradient(90deg,#009299 23px,#007599 138px,#057499 143px,#990131 448px,#990023 527px,#990019 627px)"></i>
<i style="background:linear-gradient(90deg,#008f99 23px,#007299 139px,#067199 144px,#990132 446px,#990025 525px,#99001a 625px)"></i>
<i style="background:linear-gradient(90deg,#008c99 24px,#007099 139px,#056e99 144px,#990134 444px,#990026 523px,#99001a 623px)"></i>
<i style="background:linear-gradient(90deg,#008999 25px,#006d99 140px,#066c99 145px,#990135 442px,#990027 521px,#99001b 621px)"></i>
<i style="background:linear-gradient(90deg,#008699 26px,#006a99 140px,#056999 145px,#990137 439px,#990028 518px,#99001c 619px)"></i>
<i style="background:linear-gradient(90deg,#008499 27px,#006899 141px,#066699 146px,#990139 437px,#990029 516px,#99001d 617px)"></i>
<i style="background:linear-gradient(90deg,#008199 27px,#006599 141px,#056499 146px,#99013b 435px,#99002b 514px,#99001e 615px)"></i>
<i style="background:linear-gradient(90deg,#007e99 28px,#006399 142px,#066299 147px,#99013d 432px,#99002c 512px,#99001f 613px)"></i>
<i style="background:linear-gradient(90deg,#007c99 29px,#006199 142px,#056099 147px,#99013e 430px,#99002d 510px,#990020 611px)"></i>
<i style="background:linear-gradient(90deg,#007999 30px,#005f99 142px,#065d99 148px,#990140 428px,#99002f 507px,#990021 609px)"></i>
<i style="background:linear-gradient(90deg,#007799 31px,#005c99 143px,#055b99 148px,#990142 426px,#990030 505px,#990022 607px)"></i>
<i style="background:linear-gradient(90deg,#007499 32px,#005a99 143px,#055999 149px,#990144 423px,#990031 503px,#990023 605px)"></i>
<i style="background:linear-gradient(90deg,#007299 32px,#005899 144px,#055799 149px,#990146 421px,#990033 501px,#990024 603px)"></i>
<i style="background:linear-gradient(90deg,#007099 33px,#005699 144px,#055599 150px,#990148 419px,#990034 499px,#990025 602px)"></i>
<i style="background:linear-gradient(90deg,#006e99 34px,#005499 145px,#055399 150px,#99014a 417px,#990035 497px,#990026 600px)"></i>
<i style="background:linear-gradient(90deg,#006c99 35px,#005299 145px,#99014c 414px,#990037 494px,#990027 598px)"></i>
<i style="background:linear-gradient(90deg,#006999 36px,#005199 146px,#054f99 151px,#99014e 412px,#990038 492px,#990028 596px)"></i>
<i style="background:linear-gradient(90deg,#006799 37px,#004f99 146px,#990151 410px,#99003a 490px,#990029 594px)"></i>
<i style="background:linear-gradient(90deg,#006699 37px,#004d99 147px,#054c99 152px,#990153 408px,#99003b 488px,#99002a 592px)"></i>
<i style="background:linear-gradient(90deg,#006499 38px,#004b99 147px,#990155 405px,#990048 442px,#99003d 485px,#99002b 590px)"></i>
<i style="background:linear-gradient(90deg,#006299 39px,#004a99 148px,#990157 403px,#99004a 440px,#99003f 483px,#99002c 588px)"></i>
<i style="background:linear-gradient(90deg,#006099 40px,#004899 148px,#99015a 401px,#99004c 438px,#990040 481px,#99002d 586px)"></i>
<i style="background:linear-gradient(90deg,#005e99 41px,#004699 149px,#99015d 398px,#99004e 435px,#990042 478px,#99002e 584px)"></i>
<i style="background:linear-gradient(90deg,#005c99 42px,#004599 149px,#99015f 396px,#990050 433px,#990044 476px,#99002f 582px)"></i>
<i style="background:linear-gradient(90deg,#005a99 43px,#004399 150px,#990161 394px,#990052 431px,#990045 474px,#990030 580px)"></i>
<i style="background:linear-gradient(90deg,#005899 44px,#004299 150px,#990164 392px,#990054 429px,#990047 472px,#990031 578px)"></i>
<i style="background:linear-gradient(90deg,#005799 45px,#004099 151px,#990167 389px,#990057 426px,#990049 469px,#99003d 519px,#990032 576px)"></i>
<i style="background:linear-gradient(90deg,#005599 46px,#003f99 151px,#990169 387px,#990059 424px,#99004b 467px,#99003e 517px,#990034 574px)"></i>
<i style="background:linear-gradient(90deg,#005499 46px,#003d99 152px,#99016c 385px,#99005b 422px,#99004c 465px,#990040 515px,#990035 572px)"></i>
<i style="background:linear-gradient(90deg,#005299 47px,#003c99 152px,#99016f 383px,#99005d 420px,#99004e 463px,#990041 513px,#990036 570px)"></i>
<i style="background:linear-gradient(90deg,#005099 48px,#003b99 153px,#990172 380px,#990060 417px,#990050 460px,#990043 510px,#990037 568px)"></i>
<i style="background:linear-gradient(90deg,#004f99 49px,#003a99 153px,#990175 378px,#990062 415px,#990052 458px,#990044 508px,#990038 567px)"></i>
<i style="background:linear-gradient(90deg,#004d99 50px,#003899 154px,#990178 376px,#990065 413px,#990054 456px,#990046 506px,#990039 565px)"></i>
<i style="background:linear-gradient(90deg,#004c99 51px,#003799 154px,#99017b 374px,#990067 411px,#990056 454px,#990047 504px,#99003b 563px)"></i>
<i style="background:linear-gradient(90deg,#004a99 52px,#003699 155px,#99027f 371px,#99006a 408px,#990058 451px,#990049 502px,#99003c 561px)"></i>
<i style="background:linear-gradient(90deg,#004999 53px,#003599 155px,#990182 369px,#99006c 406px,#99005a 449px,#99004a 500px,#99003d 559px)"></i>
<i style="background:linear-gradient(90deg,#004899 54px,#003399 156px,#990185 367px,#99006f 404px,#99005c 447px,#99004c 498px,#99003e 557px)"></i>
<i style="background:linear-gradient(90deg,#004699 55px,#003299 156px,#990289 364px,#990072 401px,#99005e 444px,#99004e 495px,#990040 555px)"></i>
<i style="background:linear-gradient(90deg,#004599 56px,#003199 157px,#99028c 362px,#990075 399px,#990061 442px,#99004f 493px,#990041 553px)"></i>
<i style="background:linear-gradient(90deg,#004399 57px,#003099 157px,#990290 360px,#990077 397px,#990063 440px,#990051 491px,#990042 551px)"></i>
<i style="background:linear-gradient(90deg,#004299 58px,#002f99 158px,#990294 358px,#99007a 395px,#990065 438px,#990053 489px,#990044 549px)"></i>
<i style="background:linear-gradient(90deg,#004199 59px,#002e99 158px,#990298 355px,#99007d 392px,#990067 435px,#990055 486px,#990045 547px)"></i>
<i style="background:linear-gradient(90deg,#004099 60px,#002d99 159px,#990199 356px,#99007e 393px,#990069 435px,#990056 485px,#990046 545px)"></i>
<i style="background:linear-gradient(90deg,#003e99 61px,#002c99 159px,#990099 359px,#99007f 394px,#99006a 436px,#990057 485px,#990048 543px)"></i>
<i style="background:linear-gradient(90deg,#003d99 62px,#002b99 159px,#990099 361px,#990080 396px,#99006b 437px,#990058 485px,#990049 541px)"></i>
<i style="background:linear-gradient(90deg,#003c99 64px,#002a99 160px,#900099 352px,#990099 363px,#990080 398px,#99006b 438px,#99005a 485px,#99004a 539px)"></i>
<i style="background:linear-gradient(90deg,#003b99 65px,#002999 160px,#8c0099 350px,#990099 366px,#990081 400px,#99006c 439px,#99005b 484px,#99004c 537px)"></i>
<i style="background:linear-gradient(90deg,#003999 66px,#002899 161px,#890099 348px,#990099 368px,#990082 401px,#99006e 439px,#99005d 483px,#99004d 535px)"></i>
<i style="background:linear-gradient(90deg,#003899 67px,#002799 161px,#860099 346px,#990099 370px,#990082 403px,#99006f 440px,#99005e 483px,#99004f 533px)"></i>
<i style="background:linear-gradient(90deg,#003799 68px,#002699 162px,#810099 343px,#990099 373px,#990083 405px,#990070 441px,#99005f 483px,#990050 532px)"></i>
<i style="background:linear-gradient(90deg,#003699 69px,#002599 162px,#7e0099 341px,#990099 375px,#990084 406px,#990070 442px,#990060 483px,#990052 530px)"></i>
<i style="background:linear-gradient(90deg,#003599 70px,#002499 163px,#7b0099 339px,#990099 378px,#990084 408px,#990071 443px,#990061 483px,#990053 528px)"></i>
<i style="background:linear-gradient(90deg,#003499 71px,#002399 163px,#780099 337px,#990099 380px,#990084 410px,#990072 444px,#990063 482px,#990055 526px)"></i>
<i style="background:linear-gradient(90deg,#003399 72px,#002299 164px,#750099 334px,#990099 382px,#990085 411px,#990074 444px,#990064 481px,#990056 524px)"></i>
<i style="background:linear-gradient(90deg,#003299 73px,#002299 164px,#720099 332px,#990099 385px,#990086 413px,#990075 445px,#990065 481px,#990058 522px)"></i>
<i style="background:linear-gradient(90deg,#003199 75px,#002199 165px,#6f0099 330px,#990099 387px,#990086 415px,#990075 446px,#990067 481px,#99005a 520px)"></i>
<i style="background:linear-gradient(90deg,#003099 76px,#002099 165px,#6c0099 328px,#990099 389px,#990086 417px,#990076 447px,#99005b 518px)"></i>
<i style="background:linear-gradient(90deg,#002f99 77px,#001f99 166px,#690099 325px,#990099 392px,#990087 418px,#990078 447px,#99005d 516px)"></i>
<i style="background:linear-gradient(90deg,#002e99 78px,#001e99 166px,#660099 323px,#990099 394px,#990088 420px,#990079 448px,#99005f 514px)"></i>
<i style="background:linear-gradient(90deg,#002d99 79px,#001e99 167px,#630099 321px,#990099 396px,#990079 449px,#990060 512px)"></i>
<i style="background:linear-gradient(90deg,#002c99 80px,#001d99 167px,#610099 319px,#990099 398px,#99007a 450px,#990062 510px)"></i>
<i style="background:linear-gradient(90deg,#002b99 81px,#001c99 168px,#5e0099 316px,#990099 401px,#99007c 449px,#990064 508px)"></i>
<i style="background:linear-gradient(90deg,#002a99 83px,#001b99 168px,#5b0099 314px,#990099 403px,#99007c 451px,#990066 506px)"></i>
<i style="background:linear-gradient(90deg,#002999 84px,#001b99 169px,#590099 312px,#980099 405px,#99007d 452px,#990067 504px)"></i>
<i style="background:linear-gradient(90deg,#002899 85px,#001a99 169px,#560099 310px,#990099 408px,#99007f 451px,#990069 502px)"></i>
<i style="background:linear-gradient(90deg,#002799 86px,#001999 170px,#540099 307px,#990099 410px,#990080 452px,#99006b 500px)"></i>
<i style="background:linear-gradient(90deg,#002699 87px,#001899 170px,#510099 305px,#980099 412px,#990081 453px,#99006d 498px)"></i>
<i style="background:linear-gradient(90deg,#002599 88px,#001899 171px,#4f0099 303px,#990099 415px,#990082 453px,#99006f 497px)"></i>
<i style="background:linear-gradient(90deg,#002599 89px,#001799 171px,#4d0099 301px,#990099 417px,#990083 455px,#990071 495px)"></i>
<i style="background:linear-gradient(90deg,#002499 91px,#001799 171px,#4a0099 298px,#980099 419px,#990083 456px,#990072 493px)"></i>
<i style="background:linear-gradient(90deg,#002399 92px,#001699 172px,#480099 296px,#990099 422px,#990085 455px,#990074 491px)"></i>
<i style="background:linear-gradient(90deg,#002299 93px,#001599 172px,#460099 294px,#990099 424px,#990086 456px,#990077 489px)"></i>
<i style="background:linear-gradient(90deg,#002199 94px,#001599 173px,#440099 292px,#990099 427px,#990088 455px,#990079 487px)"></i>
<i style="background:linear-gradient(90deg,#002099 95px,#001499 173px,#410099 289px,#990099 429px,#99007b 485px)"></i>
<i style="background:linear-gradient(90deg,#002099 97px,#001399 174px,#3f0099 287px,#990099 431px,#99007d 483px)"></i>
<i style="background:linear-gradient(90deg,#001f99 98px,#001399 174px,#3e0099 285px,#990099 434px,#99007f 481px)"></i>
<i style="background:linear-gradient(90deg,#001e99 99px,#001299 175px,#3c0099 283px,#990099 436px,#990081 479px)"></i>
<i style="background:linear-gradient(90deg,#001d99 100px,#001299 175px,#390099 280px,#990099 438px,#990084 477px)"></i>
<i style="background:linear-gradient(90deg,#001d99 101px,#001199 176px,#370099 278px,#990099 441px,#990086 475px)"></i>
<i style="background:linear-gradient(90deg,#001c99 103px,#001099 176px,#360099 276px,#660099 361px,#990099 443px,#990088 473px)"></i>
<i style="background:linear-gradient(90deg,#001b99 104px,#001099 177px,#340099 274px,#650099 361px,#990099 445px,#99008a 471px)"></i>
<i style="background:linear-gradient(90deg,#001a99 105px,#000f99 177px,#320099 271px,#640099 361px,#990099 448px,#99008d 469px)"></i>
<i style="background:linear-gradient(90deg,#001a99 106px,#000f99 178px,#300099 269px,#630099 361px,#990099 450px,#99008f 467px)"></i>
<i style="background:linear-gradient(90deg,#001999 108px,#000e99 178px,#2e0099 267px,#620099 361px,#980099 452px,#990092 465px)"></i>
<i style="background:linear-gradient(90deg,#001899 109px,#000e99 179px,#2d0099 265px,#620099 362px,#990099 455px,#990094 464px)"></i>
<i style="background:linear-gradient(90deg,#001799 110px,#000d99 179px,#2a0099 262px,#600099 361px,#990099 457px,#990096 462px)"></i>
<i style="background:linear-gradient(90deg,#001799 111px,#000d99 180px,#290099 260px,#5f0099 361px,#990099 460px)"></i>
<i style="background:linear-gradient(90deg,#001699 113px,#000c99 180px,#270099 258px,#5e0099 360px,#960099 458px)"></i>
<i style="background:linear-gradient(90deg,#001599 114px,#000c99 181px,#260099 256px,#5c0099 358px,#940099 456px)"></i>
<i style="background:linear-gradient(90deg,#001599 115px,#000b99 181px,#240099 253px,#590099 355px,#910099 454px)"></i>
<i style="background:linear-gradient(90deg,#001499 117px,#000b99 182px,#220099 251px,#570099 353px,#8f0099 452px)"></i>
<i style="background:linear-gradient(90deg,#001399 118px,#000a99 182px,#210099 249px,#560099 351px,#8c0099 450px)"></i>
<i style="background:linear-gradient(90deg,#001399 119px,#000a99 182px,#1f0099 247px,#540099 349px,#8a0099 448px)"></i>
<i style="background:linear-gradient(90deg,#001299 120px,#000999 183px,#1d0099 244px,#520099 347px,#880099 446px)"></i>
<i style="background:linear-gradient(90deg,#001199 122px,#000999 183px,#1c0099 242px,#500099 345px,#850099 444px)"></i>
<i style="background:linear-gradient(90deg,#001199 123px,#000899 184px,#1b0099 240px,#4e0099 343px,#830099 442px)"></i>
<i style="background:linear-gradient(90deg,#001099 124px,#000899 184px,#190099 238px,#4c0099 341px,#810099 440px)"></i>
<i style="background:linear-gradient(90deg,#001099 126px,#000799 185px,#180099 235px,#4a0099 338px,#7f0099 438px)"></i>
<i style="background:linear-gradient(90deg,#000f99 127px,#000799 185px,#160099 233px,#480099 336px,#7c0099 436px)"></i>
<i style="background:linear-gradient(90deg,#000f99 128px,#000699 186px,#150099 231px,#470099 334px,#7a0099 434px)"></i>
<i style="background:linear-gradient(90deg,#000e99 130px,#000699 186px,#130099 228px,#450099 332px,#780099 432px)"></i>
<i style="background:linear-gradient(90deg,#000d99 131px,#000699 187px,#120099 226px,#430099 330px,#760099 430px)"></i>
<i style="background:linear-gradient(90deg,#000d99 133px,#000599 187px,#110099 224px,#420099 328px,#740099 429px)"></i>
<i style="background:linear-gradient(90deg,#000c99 134px,#000599 188px,#0f0099 222px,#400099 326px,#720099 427px)"></i>
<i style="background:linear-gradient(90deg,#000c99 135px,#000499 188px,#0e0099 219px,#3e0099 324px,#700099 425px)"></i>
<i style="background:linear-gradient(90deg,#000b99 137px,#000499 189px,#0d0099 217px,#3d0099 322px,#6e0099 423px)"></i>
<i style="background:linear-gradient(90deg,#000a99 138px,#000499 189px,#0b0099 215px,#6c0099 421px)"></i>
<i style="background:linear-gradient(90deg,#000a99 140px,#000399 190px,#0a0099 213px,#6b0099 419px)"></i>
<i style="background:linear-gradient(90deg,#000999 141px,#000399 190px,#090099 210px,#690099 417px)"></i>
<i style="background:linear-gradient(90deg,#000999 142px,#000299 191px,#080099 208px,#670099 415px)"></i>
<i style="background:linear-gradient(90deg,#000899 144px,#000299 191px,#070099 206px,#650099 413px)"></i>
<i style="background:linear-gradient(90deg,#000899 145px,#000299 191px,#300099 302px,#630099 411px)"></i>
<i style="background:linear-gradient(90deg,#000799 147px,#000199 192px,#300099 302px,#610099 409px)"></i>
<i style="background:linear-gradient(90deg,#000799 148px,#000199 192px,#600099 407px)"></i>
<i style="background:linear-gradient(90deg,#000699 150px,#000099 193px,#5e0099 405px)"></i>
<i style="background:linear-gradient(90deg,#000699 151px,#000099 193px,#5c0099 403px)"></i>
<i style="background:linear-gradient(90deg,#000599 153px,#000099 194px,#5a0099 401px)"></i>
<i style="background:linear-gradient(90deg,#000599 154px,#000099 194px,#590099 399px)"></i>
<i style="background:linear-gradient(90deg,#000499 156px,#000099 195px,#570099 397px)"></i>
<i style="background:linear-gradient(90deg,#000499 157px,#000099 195px,#550099 395px)"></i>
<i style="background:linear-gradient(90deg,#000399 159px,#000099 196px,#540099 394px)"></i>
<i style="background:linear-gradient(90deg,#000399 160px,#000099 196px,#530099 392px)"></i>
<i style="background:linear-gradient(90deg,#000299 162px,#000099 197px,#510099 390px)"></i>
<i style="background:linear-gradient(90deg,#000199 164px,#000099 197px,#500099 388px)"></i>
<i style="background:linear-gradient(90deg,#000199 165px,#000099 198px,#4e0099 386px)"></i>
<i style="background:linear-gradient(90deg,#000199 167px,#000099 198px,#4d0099 384px)"></i>
<i style="background:linear-gradient(90deg,#000099 168px,#000099 199px,#4b0099 382px)"></i>
<i style="background:linear-gradient(90deg,#000099 170px,#000099 199px,#4a0099 380px)"></i>
<i style="background:linear-gradient(90deg,#000099 172px,#000099 200px,#480099 378px)"></i>
<i style="background:linear-gradient(90deg,#000099 173px,#000099 200px,#470099 376px)"></i>
<i style="background:linear-gradient(90deg,#000099 175px,#000099 201px,#450099 374px)"></i>
<i style="background:linear-gradient(90deg,#000099 177px,#000099 201px,#440099 372px)"></i>
<i style="background:linear-gradient(90deg,#000099 178px,#000099 201px,#430099 370px)"></i>
<i style="background:linear-gradient(90deg,#000099 180px,#000099 202px,#410099 368px)"></i>
<i style="background:linear-gradient(90deg,#000099 182px,#000099 202px,#400099 366px)"></i>
<i style="background:linear-gradient(90deg,#000099 184px,#000099 203px,#3e0099 364px)"></i>
<i style="background:linear-gradient(90deg,#000099 186px,#000099 203px,#3d0099 362px)"></i>
<i style="background:linear-gradient(90deg,#000099 187px,#000099 204px,#3c0099 360px)"></i>
<i style="background:linear-gradient(90deg,#000099 189px,#000099 204px,#3b0099 359px)"></i>
<i style="background:linear-gradient(90deg,#000099 191px,#000099 205px,#3a0099 357px)"></i>
<i style="background:linear-gradient(90deg,#000099 193px,#000099 205px,#380099 355px)"></i>
<i style="background:linear-gradient(90deg,#000099 195px,#000099 206px,#370099 353px)"></i>
<i style="background:linear-gradient(90deg,#000099 197px,#000099 206px,#360099 351px)"></i>
<i style="background:linear-gradient(90deg,#000099 199px,#000099 207px,#350099 349px)"></i>
<i style="background:linear-gradient(90deg,#000099 201px,#000099 207px,#330099 347px)"></i>
<i style="background:linear-gradient(90deg,#000099 203px,#320099 345px)"></i>
<i style="background:linear-gradient(90deg,#000099 205px,#310099 343px)"></i>
<i style="background:linear-gradient(90deg,#000099 207px,#300099 341px)"></i>
<i style="background:linear-gradient(90deg,#000099 209px,#2f0099 339px)"></i>
<i style="background:linear-gradient(90deg,#010099 212px,#2e0099 337px)"></i>
<i style="background:linear-gradient(90deg,#020099 214px,#2d0099 335px)"></i>
<i style="background:linear-gradient(90deg,#020099 216px,#2b0099 333px)"></i>
<i style="background:linear-gradient(90deg,#030099 218px,#2a0099 331px)"></i>
<i style="background:linear-gradient(90deg,#030099 220px,#290099 329px)"></i>
<i style="background:linear-gradient(90deg,#040099 223px,#280099 327px)"></i>
<i style="background:linear-gradient(90deg,#040099 225px,#270099 326px)"></i>
<i style="background:linear-gradient(90deg,#050099 227px,#260099 324px)"></i>
<i style="background:linear-gradient(90deg,#060099 230px,#250099 322px)"></i>
<i style="background:linear-gradient(90deg,#060099 232px,#240099 320px)"></i>
<i style="background:linear-gradient(90deg,#070099 234px,#230099 318px)"></i>
<i style="background:linear-gradient(90deg,#070099 237px,#220099 316px)"></i>
<i style="background:linear-gradient(90deg,#080099 239px,#210099 314px)"></i>
<i style="background:linear-gradient(90deg,#090099 242px,#200099 312px)"></i>
<i style="background:linear-gradient(90deg,#090099 244px,#1f0099 310px)"></i>
<i style="background:linear-gradient(90deg,#0a0099 246px,#1e0099 308px)"></i>
<i style="background:linear-gradient(90deg,#0a0099 249px,#1d0099 306px)"></i>
<i style="background:linear-gradient(90deg,#0b0099 251px,#1c0099 304px)"></i>
<i style="background:linear-gradient(90deg,#0b0099 253px,#1b0099 302px)"></i>
<i style="background:linear-gradient(90deg,#0c0099 256px,#1a0099 300px)"></i>
<i style="background:linear-gradient(90deg,#0d0099 258px,#1a0099 298px)"></i>
<i style="background:linear-gradient(90deg,#0d0099 260px,#190099 296px)"></i>
<i style="background:linear-gradient(90deg,#0e0099 263px,#180099 294px)"></i>
<i style="background:linear-gradient(90deg,#0e0099 265px,#170099 292px)"></i>
<i style="background:linear-gradient(90deg,#0f0099 267px,#160099 291px)"></i>
<i style="background:linear-gradient(90deg,#0f0099 270px,#150099 289px)"></i>
<i style="background:linear-gradient(90deg,#100099 272px,#140099 287px)"></i>
<i style="background:linear-gradient(90deg,#100099 275px,#140099 285px)"></i>
<i></i>
<i></i>
<i></i>
<i></i>
<i></i>
<i></i>
<i></i>
</div>
<div class="a rw" style="left:1352px;top:229px;width:442px;height:360px;clip-path:polygon(440.9px 46.0px,1.3px 1.6px,86.2px 358.8px)">
<i style="background:linear-gradient(90deg,#00ff00 0px,#01ff00 2px,#17ff00 15px,#47ff00 41px)"></i>
<i style="background:linear-gradient(90deg,#00ff03 0px,#01ff02 2px,#2aff00 26px,#6fff00 61px)"></i>
<i style="background:linear-gradient(90deg,#00ff06 0px,#00ff06 2px,#07ff05 6px,#3eff00 37px,#6cff00 60px,#9bff00 81px)"></i>
<i style="background:linear-gradient(90deg,#00ff0a 0px,#01ff09 3px,#13ff07 14px,#55ff01 49px,#90ff00 76px,#cdff00 101px)"></i>
<i style="background:linear-gradient(90deg,#00ff0d 0px,#00ff0d 3px,#1aff0b 18px,#63ff04 56px,#acff00 88px,#fcff00 118px,#ffff00 119px,#fff900 121px)"></i>
<i style="background:linear-gradient(90deg,#00ff11 0px,#01ff10 4px,#17ff0e 17px,#3eff0b 38px,#67ff07 58px,#afff01 89px,#fdff00 118px,#fffe00 119px,#ffe400 129px,#ffcb00 140px)"></i>
<i style="background:linear-gradient(90deg,#00ff15 0px,#00ff14 4px,#15ff12 16px,#3cff0f 37px,#67ff0c 58px,#afff06 89px,#fdff00 118px,#fffe00 119px,#ffe300 129px,#ffcc00 139px,#ffa600 160px)"></i>
<i style="background:linear-gradient(90deg,#00ff18 0px,#01ff18 5px,#0fff17 13px,#39ff13 36px,#64ff10 57px,#afff0a 89px,#feff04 118px,#ffdb00 132px,#ffbd00 146px,#ffa200 162px,#ff8900 180px)"></i>
<i style="background:linear-gradient(90deg,#00ff1c 0px,#00ff1b 5px,#0aff1b 11px,#37ff17 35px,#64ff14 57px,#afff0f 89px,#feff09 118px,#ffd404 135px,#ffae00 154px,#ff8f00 175px,#ff7200 200px)"></i>
<i style="background:linear-gradient(90deg,#00ff20 0px,#00ff1f 5px,#04ff1f 8px,#32ff1c 33px,#61ff18 56px,#acff13 88px,#d4ff11 103px,#ffff0e 118px,#ffe40a 128px,#ffcc07 138px,#ffb605 149px,#ffa202 161px,#ff7e00 188px,#ff5f00 220px)"></i>
<i style="background:linear-gradient(90deg,#00ff24 0px,#00ff23 6px,#2eff20 31px,#5fff1d 55px,#aaff18 87px,#ffff13 118px,#ffe10e 129px,#ffc50b 141px,#ffad07 154px,#ff9704 168px,#ff8302 183px,#ff7100 200px,#ff5000 239px)"></i>
<i style="background:linear-gradient(90deg,#00ff27 0px,#01ff27 7px,#2dff24 31px,#5cff21 54px,#a7ff1d 86px,#fffe17 118px,#ffdd13 130px,#ffc10e 143px,#ffa60a 158px,#ff8e06 174px,#ff7803 192px,#ff6500 212px,#ff5300 234px,#ff4300 259px)"></i>
<i style="background:linear-gradient(90deg,#00ff2b 1px,#00ff2b 7px,#2fff28 32px,#5eff26 55px,#a7ff22 86px,#fffd1c 118px,#ffda17 131px,#ffba11 146px,#ff9d0c 163px,#ff8408 181px,#ff6d04 202px,#ff5901 225px,#ff4700 251px,#ff3700 279px)"></i>
<i style="background:linear-gradient(90deg,#00ff2f 1px,#01ff2e 8px,#2eff2c 32px,#5eff2a 55px,#aaff26 87px,#d2ff24 102px,#feff22 117px,#ffd71b 132px,#ffb615 148px,#ff980f 166px,#ff7d0a 187px,#ff6506 210px,#ff5002 236px,#ff3e00 266px,#ff2e00 299px)"></i>
<i style="background:linear-gradient(90deg,#00ff33 2px,#00ff33 8px,#2fff30 33px,#5fff2e 56px,#acff2b 88px,#d5ff29 103px,#ffff27 117px,#ffd41f 133px,#ffb118 150px,#ff9111 170px,#ff760c 192px,#ff5e07 218px,#ff4803 247px,#ff3500 281px,#ff2500 319px)"></i>
<i style="background:linear-gradient(90deg,#00ff37 2px,#01ff36 9px,#2fff35 33px,#5dff33 55px,#aaff30 87px,#d3ff2e 102px,#ffff2c 117px,#ffd423 133px,#ffad1b 152px,#ff8c14 173px,#ff6f0e 198px,#ff5708 226px,#ff4004 259px,#ff2e00 296px,#ff1d00 339px)"></i>
<i style="background:linear-gradient(90deg,#00ff3b 3px,#00ff3b 9px,#2eff39 33px,#5fff37 56px,#aaff35 87px,#fffe32 117px,#ffe72c 125px,#ffd127 134px,#ffa91e 154px,#ff8716 177px,#ff6a0f 203px,#ff500a 234px,#ff3a05 269px,#ff2700 310px,#ff1700 358px)"></i>
<i style="background:linear-gradient(90deg,#00ff3f 3px,#01ff3f 10px,#2dff3d 33px,#5cff3c 55px,#a7ff3a 86px,#fffe37 117px,#ffe431 126px,#ffce2b 135px,#ffa521 156px,#ff8218 180px,#ff6311 209px,#ff4a0b 242px,#ff3405 281px,#ff2101 326px,#ff1100 378px)"></i>
<i style="background:linear-gradient(90deg,#00ff43 4px,#01ff43 10px,#2dff42 33px,#5cff41 55px,#a5ff3f 85px,#d1ff3e 101px,#feff3d 116px,#fffd3c 117px,#ffe335 126px,#ffcb2f 136px,#ffb429 147px,#ffa124 158px,#ff7c1a 184px,#ff5e13 214px,#ff450c 249px,#ff2e06 291px,#ff1b01 340px,#ff0b00 398px)"></i>
<i style="background:linear-gradient(90deg,#00ff47 4px,#02ff47 11px,#2eff46 34px,#5dff45 56px,#aaff44 87px,#d4ff43 102px,#ffff42 116px,#ffe23a 126px,#ffca34 136px,#ffb32d 147px,#ff9e27 159px,#ff791d 186px,#ff5a14 218px,#ff400d 256px,#ff2907 301px,#ff1601 355px,#ff0600 418px)"></i>
<i style="background:linear-gradient(90deg,#00ff4c 5px,#01ff4b 11px,#2fff4b 35px,#5fff4a 57px,#86ff4a 73px,#adff49 88px,#d4ff49 102px,#ffff48 116px,#ffe23f 126px,#ffc938 136px,#ffb231 147px,#ff9c2b 160px,#ff8825 174px,#ff751f 189px,#ff5616 223px,#ff3b0e 264px,#ff2407 312px,#ff1102 370px,#ff0200 438px)"></i>
<i style="background:linear-gradient(90deg,#00ff50 5px,#02ff50 12px,#2fff4f 35px,#5dff4f 56px,#a7ff4e 86px,#fffe4d 116px,#ffe144 126px,#ffc93d 136px,#ffb035 148px,#ff9a2e 161px,#ff8528 175px,#ff7322 190px,#ff5418 224px,#ff3910 265px,#ff2309 314px,#ff1003 372px,#ff0000 442px)"></i>
<i style="background:linear-gradient(90deg,#00ff54 6px,#01ff54 12px,#2eff54 35px,#5eff54 57px,#a7ff54 86px,#fffe53 116px,#ffe049 126px,#ffc841 136px,#ffaf39 148px,#ff9932 161px,#ff852b 175px,#ff7325 190px,#ff531b 224px,#ff3912 265px,#ff220b 314px,#ff1005 372px,#ff0000 442px)"></i>
<i style="background:linear-gradient(90deg,#00ff59 6px,#02ff59 13px,#2dff59 35px,#59ff59 55px,#a5ff59 85px,#cfff59 100px,#feff59 115px,#fffd59 116px,#ffe04e 126px,#ffc746 136px,#ffb03e 147px,#ff9a36 160px,#ff852f 174px,#ff7329 189px,#ff531d 224px,#ff3814 265px,#ff210c 315px,#ff0e06 375px,#ff0001 442px)"></i>
<i style="background:linear-gradient(90deg,#00ff5d 7px,#01ff5d 13px,#2dff5d 35px,#5bff5e 56px,#a5ff5e 85px,#cfff5f 100px,#feff5f 115px,#fffc5e 116px,#ffdf54 126px,#ffc64b 136px,#ffb042 147px,#ff993a 160px,#ff8533 174px,#ff722c 189px,#ff5220 224px,#ff3716 265px,#ff210e 315px,#ff0d07 378px,#ff0002 442px)"></i>
<i style="background:linear-gradient(90deg,#00ff61 7px,#02ff62 14px,#2eff62 36px,#5dff63 57px,#aaff64 87px,#d3ff65 101px,#ffff65 115px,#ffe15a 125px,#ffc850 135px,#ffb147 146px,#ff9a3e 159px,#ff8537 173px,#ff7330 188px,#ff5223 223px,#ff3719 265px,#ff2010 316px,#ff0c08 381px,#ff0003 442px)"></i>
<i style="background:linear-gradient(90deg,#00ff66 7px,#01ff66 14px,#2dff67 36px,#5aff68 56px,#a7ff6a 86px,#d0ff6a 100px,#fffe6b 115px,#ffe05f 125px,#ffc755 135px,#ffb04c 146px,#ff9942 159px,#ff843a 173px,#ff7233 188px,#ff5226 222px,#ff371b 264px,#ff2012 314px,#ff0c0a 379px,#ff0005 440px)"></i>
<i style="background:linear-gradient(90deg,#00ff6b 8px,#00ff6b 14px,#2dff6c 36px,#5cff6d 57px,#a7ff6f 86px,#fffe71 115px,#ffe064 125px,#ffc65a 135px,#ffaf50 146px,#ff9846 159px,#ff843e 173px,#ff7136 188px,#ff5129 222px,#ff361d 264px,#ff2014 314px,#ff0b0b 379px,#ff0006 438px)"></i>
<i style="background:linear-gradient(90deg,#00ff6f 8px,#01ff70 15px,#2cff71 36px,#59ff72 56px,#a4ff75 85px,#d0ff76 100px,#fdff78 114px,#fffd77 115px,#ffdf6a 125px,#ffc65f 135px,#ffae54 146px,#ff974a 159px,#ff8442 172px,#ff723a 187px,#ff522c 221px,#ff3720 262px,#ff2016 312px,#ff0c0d 377px,#ff0007 436px)"></i>
<i style="background:linear-gradient(90deg,#00ff74 9px,#00ff74 15px,#2bff76 36px,#59ff78 56px,#a2ff7b 84px,#ceff7c 99px,#feff7e 114px,#fffd7d 115px,#ffde6f 125px,#ffc564 135px,#ffae59 146px,#ff984f 158px,#ff8546 171px,#ff723e 186px,#ff522f 220px,#ff3723 261px,#ff2018 311px,#ff0b0f 376px,#ff0009 434px)"></i>
<i style="background:linear-gradient(90deg,#00ff79 9px,#01ff79 16px,#2dff7b 37px,#5bff7d 57px,#81ff7f 72px,#aaff81 87px,#d4ff83 101px,#ffff84 114px,#ffe076 124px,#ffc76a 134px,#ffaf5e 145px,#ff9954 157px,#ff854b 170px,#ff7242 185px,#ff5232 219px,#ff3625 260px,#ff201a 309px,#ff0c11 372px,#ff000b 431px)"></i>
<i style="background:linear-gradient(90deg,#00ff7e 10px,#00ff7e 16px,#2eff81 38px,#5dff83 58px,#83ff85 73px,#aaff87 87px,#d1ff89 100px,#ffff8b 114px,#ffe07b 124px,#ffc66f 134px,#ffae63 145px,#ff9858 157px,#ff854e 170px,#ff7245 185px,#ff5235 218px,#ff3728 258px,#ff201d 307px,#ff0c12 371px,#ff000c 429px)"></i>
<i style="background:linear-gradient(90deg,#00ff83 10px,#01ff83 17px,#2dff86 38px,#5aff88 57px,#80ff8a 72px,#a7ff8d 86px,#fffe91 114px,#ffe282 123px,#ffc775 133px,#ffaf69 144px,#ff995d 156px,#ff8553 169px,#ff7249 184px,#ff5238 217px,#ff372b 257px,#ff201f 306px,#ff0c14 369px,#ff000e 427px)"></i>
<i style="background:linear-gradient(90deg,#00ff88 11px,#00ff88 17px,#2dff8b 38px,#59ff8e 57px,#a4ff93 85px,#fffd97 114px,#ffe188 123px,#ffc77a 133px,#ffae6d 144px,#ff9861 156px,#ff8457 169px,#ff714c 184px,#ff513b 217px,#ff362d 257px,#ff2021 305px,#ff0b16 368px,#ff000f 425px)"></i>
<i style="background:linear-gradient(90deg,#00ff8d 11px,#01ff8e 18px,#2aff90 37px,#56ff93 56px,#a1ff99 84px,#cfff9c 99px,#feff9f 113px,#fffd9e 114px,#ffe08e 123px,#ffc67f 133px,#ffae72 144px,#ff9866 156px,#ff845b 169px,#ff7251 183px,#ff513f 216px,#ff3630 256px,#ff2023 303px,#ff0c18 365px,#ff0011 422px)"></i>
<i style="background:linear-gradient(90deg,#00ff92 12px,#00ff93 18px,#2dff96 39px,#5bff99 58px,#82ff9c 73px,#aaff9f 87px,#d3ffa3 100px,#feffa6 113px,#ffe094 123px,#ffc886 132px,#ffaf78 143px,#ff986b 155px,#ff845f 168px,#ff7255 182px,#ff5243 214px,#ff3733 254px,#ff2026 301px,#ff0c1a 363px,#ff0012 420px)"></i>
<i style="background:linear-gradient(90deg,#00ff97 12px,#02ff98 19px,#2dff9c 39px,#5aff9f 58px,#82ffa3 73px,#aaffa6 87px,#d3ffa9 100px,#ffffad 113px,#ffe29b 122px,#ffc78b 132px,#ffae7d 143px,#ff9970 154px,#ff8564 167px,#ff7259 181px,#ff5246 213px,#ff3736 252px,#ff2028 300px,#ff0b1c 362px,#ff0014 418px)"></i>
<i style="background:linear-gradient(90deg,#00ff9c 13px,#01ff9d 19px,#2cffa1 39px,#5affa5 58px,#7fffa9 72px,#a7ffac 86px,#fffeb3 113px,#ffe1a1 122px,#ffc691 132px,#ffad81 143px,#ff9975 154px,#ff8468 167px,#ff725d 181px,#ff5249 213px,#ff3638 252px,#ff202a 299px,#ff0b1e 360px,#ff0016 415px)"></i>
<i style="background:linear-gradient(90deg,#00ffa1 13px,#02ffa3 20px,#2bffa7 39px,#57ffab 57px,#7cffaf 71px,#a4ffb2 85px,#fffeba 113px,#ffe0a7 122px,#ffc596 132px,#ffac86 143px,#ff9879 154px,#ff856d 166px,#ff7261 180px,#ff524c 212px,#ff363b 251px,#ff202d 297px,#ff0b20 358px,#ff0017 413px)"></i>
<i style="background:linear-gradient(90deg,#00ffa7 14px,#01ffa8 20px,#2affad 39px,#59ffb1 58px,#a4ffb9 85px,#d1ffbe 99px,#feffc2 112px,#fffdc1 113px,#ffdfae 122px,#ffc79d 131px,#ffae8d 142px,#ff997f 153px,#ff8572 165px,#ff7266 179px,#ff5250 211px,#ff363e 250px,#ff202f 296px,#ff0b21 357px,#ff0019 411px)"></i>
<i style="background:linear-gradient(90deg,#00ffac 14px,#02ffae 21px,#2affb2 39px,#56ffb7 57px,#a1ffbf 84px,#cdffc4 98px,#feffca 112px,#fffcc8 113px,#ffdfb4 122px,#ffc6a3 131px,#ffad92 142px,#ff9883 153px,#ff8476 165px,#ff7269 179px,#ff5153 211px,#ff3641 249px,#ff1f31 295px,#ff0b23 356px,#ff001c 401px,#ff001b 409px)"></i>
<i style="background:linear-gradient(90deg,#00ffb2 15px,#01ffb4 21px,#2effb9 41px,#5affbe 59px,#81ffc2 73px,#aaffc7 87px,#d5ffcc 100px,#ffffd1 112px,#ffe1bc 121px,#ffc8aa 130px,#ffb09a 140px,#ff9989 152px,#ff857b 164px,#ff726e 178px,#ff5257 209px,#ff3744 247px,#ff2034 293px,#ff0b26 352px,#ff001d 406px)"></i>
<i style="background:linear-gradient(90deg,#00ffb8 15px,#00ffb9 21px,#02ffb9 22px,#2dffbf 41px,#5affc4 59px,#80ffc9 73px,#a7ffce 86px,#ceffd3 98px,#fffed8 112px,#ffe0c2 121px,#ffc7b0 130px,#ffaf9f 140px,#ff9a8f 151px,#ff8681 163px,#ff7273 177px,#ff525b 208px,#ff3647 246px,#ff2037 291px,#ff0c28 350px,#ff001e 404px)"></i>
<i style="background:linear-gradient(90deg,#00ffbd 16px,#01ffbf 22px,#2cffc5 41px,#59ffcb 59px,#a4ffd5 85px,#fffedf 112px,#ffdfc9 121px,#ffc6b6 130px,#ffafa4 140px,#ff9994 151px,#ff8585 163px,#ff7277 177px,#ff515e 208px,#ff364a 246px,#ff1f39 291px,#ff0b2a 350px,#ff0021 394px,#ff0020 402px)"></i>
<i style="background:linear-gradient(90deg,#00ffc3 16px,#00ffc5 22px,#29ffcb 40px,#56ffd1 58px,#a1ffdb 84px,#cfffe2 98px,#fdffe8 111px,#fffde7 112px,#ffdfcf 121px,#ffc5bc 130px,#ffaea9 140px,#ff9899 151px,#ff8489 163px,#ff727b 176px,#ff5162 207px,#ff364d 244px,#ff1f3c 289px,#ff0b2c 348px,#ff0023 392px,#ff0022 400px)"></i>
<i style="background:linear-gradient(90deg,#00ffc9 17px,#01ffcb 23px,#2affd1 41px,#58ffd8 59px,#a1ffe2 84px,#cfffe9 98px,#fefff0 111px,#fffcee 112px,#ffded6 121px,#ffc4c2 130px,#ffadaf 140px,#ff979d 151px,#ff838e 163px,#ff717f 176px,#ff5166 206px,#ff3650 243px,#ff203e 287px,#ff0b2e 345px,#ff0024 397px)"></i>
<i style="background:linear-gradient(90deg,#00ffcf 17px,#00ffd1 23px,#2affd7 41px,#58ffdf 59px,#7fffe5 73px,#a7ffeb 86px,#d3fff1 99px,#fffff8 111px,#ffe0df 120px,#ffc6ca 129px,#ffaeb6 139px,#ff98a4 150px,#ff8493 162px,#ff7284 175px,#ff526a 205px,#ff3653 242px,#ff1f41 286px,#ff0b30 344px,#ff0027 387px,#ff0026 395px)"></i>
<i style="background:linear-gradient(90deg,#00ffd5 17px,#01ffd7 24px,#29ffde 41px,#52ffe4 57px,#9afff0 82px,#c5fff7 95px,#f4ffff 108px,#fefeff 111px,#fffbfd 112px,#ffdfe6 120px,#ffc5d0 129px,#ffadbb 139px,#ff97a9 150px,#ff8398 162px,#ff7188 175px,#ff516d 205px,#ff3657 241px,#ff1f43 285px,#ff0b32 343px,#ff0029 385px,#ff0028 393px)"></i>
<i style="background:linear-gradient(90deg,#00ffdb 18px,#00ffde 24px,#49ffea 54px,#85fff4 75px,#c5ffff 95px,#fff3fe 114px,#ffd8e7 122px,#ffbfd1 131px,#ffa8bd 141px,#ff93ab 152px,#ff7f9a 164px,#ff6d8a 177px,#ff4f70 206px,#ff3559 242px,#ff1f46 285px,#ff0a34 342px,#ff002b 383px,#ff002a 391px)"></i>
<i style="background:linear-gradient(90deg,#00ffe1 18px,#01ffe4 25px,#3effef 50px,#6afff7 66px,#9affff 82px,#ffebff 116px,#ffd2e8 124px,#ffb9d3 133px,#ffa3bf 143px,#ff8eac 154px,#ff6a8c 179px,#ff4c72 208px,#ff335b 243px,#ff1e48 285px,#ff0a37 340px,#ff002c 388px)"></i>
<i style="background:linear-gradient(90deg,#00ffe8 19px,#00ffea 25px,#30fff3 45px,#6fffff 68px,#b4f1ff 93px,#fee2ff 118px,#ffe0fd 119px,#ffc8e7 127px,#ffb1d2 136px,#ff9cbf 146px,#ff88ac 157px,#ff678e 181px,#ff4a73 210px,#ff315d 245px,#ff1d4a 286px,#ff0a38 341px,#ff002f 378px,#ff002e 386px)"></i>
<i style="background:linear-gradient(90deg,#00ffee 19px,#01fff1 26px,#25fff8 41px,#4affff 55px,#9fedff 87px,#ffd9fe 121px,#ffc2e9 129px,#ffacd4 138px,#ff97c0 148px,#ff84ae 159px,#ff648f 183px,#ff4876 211px,#ff305f 246px,#ff1c4c 287px,#ff093a 341px,#ff0031 376px,#ff0030 384px)"></i>
<i style="background:linear-gradient(90deg,#00fff5 20px,#00fff8 26px,#24ffff 41px,#33fcff 47px,#97e7ff 86px,#ffd2ff 123px,#ffa7d5 140px,#ff82b1 160px,#ff6292 184px,#ff4778 212px,#ff2f61 246px,#ff1b4e 286px,#ff093c 339px,#ff0032 381px)"></i>
<i style="background:linear-gradient(90deg,#00fffb 20px,#02ffff 27px,#2af7ff 44px,#8be2ff 83px,#ffc8fe 126px,#ffb3e9 134px,#ff9fd5 143px,#ff7cb1 163px,#ff5d93 187px,#ff4379 215px,#ff2d63 248px,#ff1a50 287px,#ff083e 339px,#ff0034 379px)"></i>
<i style="background:linear-gradient(90deg,#00fcff 21px,#00f9ff 27px,#36edff 50px,#97d9ff 89px,#ffc2ff 128px,#ff9ad6 145px,#ff78b3 165px,#ff5b96 188px,#ff437c 215px,#ff2d66 248px,#ff1a52 287px,#ff0840 339px,#ff0036 377px)"></i>
<i style="background:linear-gradient(90deg,#00f5ff 21px,#02f2ff 28px,#34e7ff 50px,#98d1ff 91px,#febbff 130px,#ff94d5 148px,#ff74b5 167px,#ff5897 190px,#ff407e 217px,#ff2b67 250px,#ff1954 288px,#ff0742 339px,#ff0038 375px)"></i>
<i style="background:linear-gradient(90deg,#00efff 22px,#01ecff 28px,#36e0ff 52px,#91ccff 90px,#ffb3fe 133px,#ff8fd7 150px,#ff71b6 169px,#ff5699 192px,#ff3f80 218px,#ff2b6a 249px,#ff1a58 284px,#ff0845 334px,#ff003b 372px)"></i>
<i style="background:linear-gradient(90deg,#00e9ff 22px,#02e6ff 29px,#34daff 52px,#97c4ff 94px,#ffadff 135px,#ff8ad8 152px,#ff6db8 171px,#ff549b 193px,#ff3d82 219px,#ff2a6d 249px,#ff195a 284px,#ff0847 334px,#ff003d 370px)"></i>
<i style="background:linear-gradient(90deg,#00e3ff 23px,#01e0ff 29px,#3ed2ff 57px,#9dbdff 98px,#fea7ff 137px,#ff86d9 154px,#ff6ab9 173px,#ff519d 195px,#ff3b84 221px,#ff296f 250px,#ff185d 284px,#ff0749 334px,#ff003f 368px)"></i>
<i style="background:linear-gradient(90deg,#00ddff 23px,#02daff 30px,#35ceff 54px,#92b9ff 95px,#ffa0fe 140px,#ff81db 156px,#ff66ba 175px,#ff4e9e 197px,#ff3986 222px,#ff2771 251px,#ff185f 284px,#ff064b 334px,#ff0041 366px)"></i>
<i style="background:linear-gradient(90deg,#00d8ff 24px,#01d5ff 30px,#40c6ff 60px,#9eb1ff 102px,#ff9bff 142px,#ff7ddc 158px,#ff63bc 177px,#ff4ca1 198px,#ff3889 223px,#ff2674 251px,#ff1761 284px,#ff064d 332px,#ff0044 363px)"></i>
<i style="background:linear-gradient(90deg,#00d3ff 24px,#00d0ff 30px,#35c3ff 56px,#8fafff 97px,#ff94fd 145px,#ff78db 161px,#ff5ebc 180px,#ff49a1 201px,#ff368a 225px,#ff2575 253px,#ff1664 284px,#ff064f 332px,#ff0046 361px)"></i>
<i style="background:linear-gradient(90deg,#00cdff 25px,#01caff 31px,#40bcff 62px,#99a7ff 103px,#ff8ffe 147px,#ff74dc 163px,#ff5cbf 181px,#ff47a4 202px,#ff348c 226px,#ff2478 253px,#ff1666 284px,#ff0551 332px,#ff0048 359px)"></i>
<i style="background:linear-gradient(90deg,#00c8ff 25px,#00c6ff 31px,#3eb7ff 62px,#9ca1ff 106px,#ff8aff 149px,#ff70dd 165px,#ff59c0 183px,#ff44a5 204px,#ff338f 227px,#ff237a 254px,#ff1568 284px,#ff0553 332px,#ff004b 357px)"></i>
<i style="background:linear-gradient(90deg,#00c3ff 26px,#01c1ff 32px,#3eb2ff 63px,#949eff 104px,#ff83fe 152px,#ff6add 168px,#ff55c0 186px,#ff42a7 206px,#ff3090 229px,#ff217c 255px,#ff146b 284px,#ff0556 330px,#ff004e 354px)"></i>
<i style="background:linear-gradient(90deg,#00bfff 26px,#00bcff 32px,#3eadff 64px,#9998ff 108px,#ff7ffe 154px,#ff67de 170px,#ff53c2 187px,#ff40a9 207px,#ff2f92 230px,#ff217f 255px,#ff146d 284px,#ff0458 330px,#ff0050 352px)"></i>
<i style="background:linear-gradient(90deg,#00bbff 26px,#01b8ff 33px,#3ca9ff 64px,#9c92ff 111px,#ff7aff 156px,#ff63df 172px,#ff50c4 189px,#ff3daa 209px,#ff2e94 231px,#ff1f81 256px,#ff136f 284px,#ff035a 330px,#ff0053 350px)"></i>
<i style="background:linear-gradient(90deg,#00b6ff 27px,#00b3ff 33px,#3ea4ff 66px,#968fff 110px,#ff75fe 159px,#ff60e0 174px,#ff4dc5 191px,#ff3cad 210px,#ff2c97 232px,#ff1f83 256px,#ff1372 283px,#ff045d 327px,#ff0055 347px)"></i>
<i style="background:linear-gradient(90deg,#00b2ff 27px,#01afff 34px,#3ea0ff 67px,#9b89ff 114px,#ff71ff 161px,#ff5ce1 176px,#ff4ac6 193px,#ff39ae 212px,#ff2b99 233px,#ff1d85 257px,#ff1275 283px,#ff035f 327px,#ff0058 345px)"></i>
<i style="background:linear-gradient(90deg,#00aeff 28px,#00abff 34px,#449aff 71px,#a084ff 118px,#ff6cff 163px,#ff58e0 179px,#ff47c7 195px,#ff38b0 213px,#ff299b 234px,#ff1d88 257px,#ff1177 283px,#ff0261 327px,#ff005b 343px)"></i>
<i style="background:linear-gradient(90deg,#00aaff 28px,#01a7ff 35px,#3e98ff 69px,#9682ff 115px,#ff67fe 166px,#ff54e1 181px,#ff44c8 197px,#ff35b2 215px,#ff289d 235px,#ff1c8b 257px,#ff117a 282px,#ff0263 327px,#ff005d 341px)"></i>
<i style="background:linear-gradient(90deg,#00a6ff 29px,#00a3ff 35px,#4692ff 74px,#9f7cff 121px,#ff63ff 168px,#ff51e2 183px,#ff41c9 199px,#ff33b3 217px,#ff269f 236px,#ff1b8d 258px,#ff107d 282px,#ff0266 324px,#ff0060 338px)"></i>
<i style="background:linear-gradient(90deg,#00a2ff 29px,#019fff 36px,#448eff 74px,#a077ff 123px,#fe60ff 170px,#ff4ee3 185px,#ff3fcb 201px,#ff31b5 218px,#ff25a2 237px,#ff1a90 258px,#ff0f7f 282px,#ff0168 325px,#ff0063 336px)"></i>
<i style="background:linear-gradient(90deg,#009eff 30px,#009cff 36px,#468aff 76px,#9c74ff 123px,#ff5bfe 173px,#ff4be4 187px,#ff3dcd 202px,#ff30b7 219px,#ff24a4 238px,#ff1992 258px,#ff0f82 281px,#ff016b 324px,#ff0066 334px)"></i>
<i style="background:linear-gradient(90deg,#009bff 30px,#0198ff 37px,#4687ff 77px,#a16fff 127px,#ff57ff 175px,#ff48e5 189px,#ff3ace 204px,#ff2db9 221px,#ff22a6 239px,#ff0e85 281px,#ff006d 324px,#ff0069 332px)"></i>
<i style="background:linear-gradient(90deg,#0097ff 31px,#0095ff 37px,#4b82ff 81px,#a36bff 130px,#fe54ff 177px,#ff44e4 192px,#ff38cf 206px,#ff2cbb 222px,#ff21a8 240px,#ff0e88 280px,#ff0070 321px,#ff006c 329px)"></i>
<i style="background:linear-gradient(90deg,#0094ff 31px,#0191ff 38px,#4580ff 79px,#9c69ff 128px,#ff4ffe 180px,#ff42e7 193px,#ff35d0 208px,#ff2abc 224px,#ff1faa 241px,#ff0d8a 280px,#ff0073 319px,#ff006f 327px)"></i>
<i style="background:linear-gradient(90deg,#0090ff 32px,#008eff 38px,#4c7aff 84px,#a464ff 134px,#ff4cff 182px,#ff3fe8 195px,#ff33d3 209px,#ff29bf 224px,#ff1ead 241px,#ff0d8d 279px,#ff0076 317px,#ff0072 325px)"></i>
<i style="background:linear-gradient(90deg,#008dff 32px,#018bff 39px,#4978ff 83px,#a161ff 134px,#fe49ff 184px,#ff3be5 199px,#ff30d2 212px,#ff1dae 243px,#ff0c8f 280px,#ff007a 315px,#ff0076 323px)"></i>
<i style="background:linear-gradient(90deg,#008aff 33px,#0088ff 39px,#4c74ff 86px,#a25eff 136px,#ff45ff 187px,#ff3ae9 199px,#ff2ed4 213px,#ff1cb1 243px,#ff0c93 278px,#ff007e 312px,#ff0079 320px)"></i>
<i style="background:linear-gradient(90deg,#0087ff 33px,#0184ff 40px,#4a71ff 86px,#a25aff 138px,#ff42ff 189px,#ff2cd5 215px,#ff1ab3 244px,#ff0b96 278px,#ff0081 310px,#ff007c 318px)"></i>
<i style="background:linear-gradient(90deg,#0084ff 34px,#0182ff 40px,#4f6dff 90px,#a456ff 141px,#fe3fff 191px,#ff2ad6 217px,#ff19b5 245px,#ff0a98 278px,#ff0084 308px,#ff0080 316px)"></i>
<i style="background:linear-gradient(90deg,#0081ff 34px,#017eff 41px,#4c6bff 89px,#a154ff 141px,#ff3bff 194px,#ff28d9 218px,#ff18b8 245px,#ff0a9c 277px,#ff0088 306px,#ff0084 313px)"></i>
<i style="background:linear-gradient(90deg,#007eff 35px,#017cff 41px,#5067ff 93px,#a550ff 145px,#ff38ff 196px,#ff26da 220px,#ff17ba 246px,#ff0a9f 276px,#ff008c 303px,#ff0087 311px)"></i>
<i style="background:linear-gradient(90deg,#007cff 35px,#0079ff 41px,#4a66ff 90px,#9d4fff 142px,#ff35fe 199px,#ff24dc 221px,#ff15bd 247px,#ff09a2 276px,#ff0090 301px,#ff008b 309px)"></i>
<i style="background:linear-gradient(90deg,#0079ff 36px,#0176ff 42px,#5161ff 96px,#a64aff 149px,#ff32ff 201px,#ff22dd 223px,#ff15c0 247px,#ff08a5 275px,#ff0093 299px,#ff008e 307px)"></i>
<i style="background:linear-gradient(90deg,#0076ff 36px,#0074ff 42px,#4e5fff 95px,#a547ff 150px,#ff2fff 203px,#ff20dd 225px,#ff13c2 248px,#ff08a9 274px,#ff0097 297px,#ff0092 304px)"></i>
<i style="background:linear-gradient(90deg,#0074ff 36px,#0171ff 43px,#495dff 93px,#9f46ff 148px,#ff2cfe 206px,#ff1ee0 226px,#ff12c5 248px,#ff08ac 273px,#ff009c 294px,#ff0096 302px)"></i>
<i style="background:linear-gradient(90deg,#0071ff 37px,#006fff 43px,#5159ff 99px,#a642ff 154px,#ff2aff 208px,#ff1de2 227px,#ff11c7 249px,#ff09b4 268px,#ff01a2 289px,#ff009a 300px)"></i>
<i style="background:linear-gradient(90deg,#006fff 37px,#016cff 44px,#4e57ff 98px,#a53fff 155px,#fe27ff 210px,#ff1ae1 230px,#ff10c9 250px,#ff08b6 269px,#ff00a4 290px,#ff009e 298px)"></i>
<i style="background:linear-gradient(90deg,#006cff 38px,#006aff 44px,#4f54ff 100px,#a23eff 155px,#ff24fe 213px,#ff19e3 231px,#ff0fcc 250px,#ff00a9 287px,#ff00a2 295px)"></i>
<i style="background:linear-gradient(90deg,#006aff 38px,#0167ff 45px,#4f52ff 101px,#a53aff 159px,#ff22ff 215px,#ff17e5 232px,#ff0ecf 250px,#ff00ad 285px,#ff00a6 293px)"></i>
<i style="background:linear-gradient(90deg,#0068ff 39px,#0065ff 45px,#534eff 105px,#a737ff 162px,#fe1fff 217px,#ff15e5 235px,#ff0dd1 251px,#ff00b1 283px,#ff00ab 291px)"></i>
<i style="background:linear-gradient(90deg,#0065ff 39px,#0163ff 46px,#4f4dff 103px,#a336ff 161px,#ff1cff 220px,#ff14e8 235px,#ff0bd3 252px,#ff00b6 281px,#ff00af 289px)"></i>
<i style="background:linear-gradient(90deg,#0063ff 40px,#0061ff 46px,#544aff 108px,#a832ff 166px,#ff1aff 222px,#ff0bd6 252px,#ff00bb 278px,#ff00b4 286px)"></i>
<i style="background:linear-gradient(90deg,#0061ff 40px,#015fff 47px,#5148ff 107px,#a531ff 166px,#fe18ff 224px,#ff09d8 253px,#ff00c0 276px,#ff00b8 284px)"></i>
<i style="background:linear-gradient(90deg,#005fff 41px,#005dff 47px,#5445ff 110px,#a62eff 168px,#ff15ff 227px,#ff08db 253px,#ff00c4 274px,#ff00bd 282px)"></i>
<i style="background:linear-gradient(90deg,#005dff 41px,#015aff 48px,#5244ff 110px,#a82cff 171px,#ff13ff 229px,#ff07de 253px,#ff00c9 272px,#ff00c2 279px)"></i>
<i style="background:linear-gradient(90deg,#005bff 42px,#0058ff 48px,#5640ff 114px,#a829ff 173px,#fe11ff 231px,#ff06e0 254px,#ff00cf 269px,#ff00c7 277px)"></i>
<i style="background:linear-gradient(90deg,#0059ff 42px,#0156ff 49px,#533fff 113px,#a727ff 174px,#ff0fff 234px,#ff07e8 250px,#ff00d4 267px,#ff00cc 275px)"></i>
<i style="background:linear-gradient(90deg,#0057ff 43px,#0055ff 49px,#573cff 117px,#a925ff 177px,#ff0dff 236px,#ff00d9 265px,#ff00d1 273px)"></i>
<i style="background:linear-gradient(90deg,#0055ff 43px,#0152ff 50px,#543bff 116px,#a823ff 178px,#fe0bff 238px,#ff00e0 262px,#ff00d7 270px)"></i>
<i style="background:linear-gradient(90deg,#0053ff 44px,#0051ff 50px,#5838ff 120px,#a921ff 181px,#ff08ff 241px,#ff00e5 260px,#ff00dc 268px)"></i>
<i style="background:linear-gradient(90deg,#0051ff 44px,#014fff 51px,#5537ff 119px,#a81fff 182px,#ff06ff 243px,#ff00eb 258px,#ff00e1 266px)"></i>
<i style="background:linear-gradient(90deg,#004fff 45px,#004dff 51px,#5934ff 123px,#aa1dff 185px,#fe05ff 245px,#ff00f1 256px,#ff00e7 264px)"></i>
<i style="background:linear-gradient(90deg,#004eff 45px,#014bff 52px,#5732ff 123px,#aa1bff 187px,#ff02ff 248px,#ff00ee 261px)"></i>
<i style="background:linear-gradient(90deg,#004cff 46px,#014aff 52px,#5930ff 126px,#ab19ff 189px,#fe01ff 250px,#ff00f3 259px)"></i>
<i style="background:linear-gradient(90deg,#004aff 46px,#0048ff 52px,#3e36ff 105px,#9c1bff 180px,#fe00ff 252px,#ff00f9 257px)"></i>
<i style="background:linear-gradient(90deg,#0049ff 46px,#0146ff 53px,#552eff 125px,#a916ff 191px,#f400ff 247px,#ff00ff 255px)"></i>
<i style="background:linear-gradient(90deg,#0047ff 47px,#0045ff 53px,#542cff 125px,#a515ff 190px,#ed00ff 244px,#f700ff 252px)"></i>
<i style="background:linear-gradient(90deg,#0045ff 47px,#0143ff 54px,#4e2dff 121px,#9f15ff 187px,#e700ff 242px,#f200ff 250px)"></i>
<i style="background:linear-gradient(90deg,#0043ff 48px,#0042ff 54px,#4e2bff 122px,#9716ff 182px,#e100ff 240px,#ec00ff 248px)"></i>
<i style="background:linear-gradient(90deg,#0042ff 48px,#0140ff 55px,#482bff 118px,#9515ff 182px,#dc00ff 238px,#e500ff 245px)"></i>
<i style="background:linear-gradient(90deg,#0040ff 49px,#003eff 55px,#482aff 119px,#8e15ff 178px,#d500ff 235px,#e000ff 243px)"></i>
<i style="background:linear-gradient(90deg,#003fff 49px,#013dff 56px,#422aff 115px,#8815ff 175px,#d000ff 233px,#da00ff 241px)"></i>
<i style="background:linear-gradient(90deg,#003dff 50px,#003cff 56px,#4228ff 116px,#8515ff 174px,#cb00ff 231px,#d500ff 239px)"></i>
<i style="background:linear-gradient(90deg,#003cff 50px,#013aff 57px,#3b29ff 111px,#7f15ff 170px,#c500ff 228px,#cf00ff 236px)"></i>
<i style="background:linear-gradient(90deg,#003bff 51px,#0039ff 57px,#3b27ff 112px,#7d14ff 170px,#c000ff 226px,#ca00ff 234px)"></i>
<i style="background:linear-gradient(90deg,#0039ff 51px,#0137ff 58px,#3627ff 108px,#7814ff 167px,#bb00ff 224px,#c500ff 232px)"></i>
<i style="background:linear-gradient(90deg,#0038ff 52px,#0036ff 58px,#3626ff 109px,#7513ff 166px,#b600ff 222px,#c000ff 230px)"></i>
<i style="background:linear-gradient(90deg,#0037ff 52px,#0134ff 59px,#3026ff 104px,#6f14ff 162px,#b100ff 219px,#ba00ff 227px)"></i>
<i style="background:linear-gradient(90deg,#0035ff 53px,#0033ff 59px,#3025ff 105px,#ac00ff 217px,#b600ff 225px)"></i>
<i style="background:linear-gradient(90deg,#0034ff 53px,#0132ff 60px,#2a26ff 100px,#6813ff 158px,#a800ff 215px,#b100ff 223px)"></i>
<i style="background:linear-gradient(90deg,#0032ff 54px,#0031ff 60px,#2a24ff 101px,#a400ff 213px,#ac00ff 220px)"></i>
<i style="background:linear-gradient(90deg,#0031ff 54px,#002fff 60px,#2425ff 96px,#9e00ff 210px,#a700ff 218px)"></i>
<i style="background:linear-gradient(90deg,#0030ff 55px,#002eff 61px,#2523ff 98px,#9a00ff 208px,#a300ff 216px)"></i>
<i style="background:linear-gradient(90deg,#002fff 55px,#002dff 61px,#2024ff 93px,#9600ff 206px,#9f00ff 214px)"></i>
<i style="background:linear-gradient(90deg,#002eff 55px,#002cff 62px,#1825ff 86px,#9200ff 204px,#9a00ff 211px)"></i>
<i style="background:linear-gradient(90deg,#002cff 56px,#002bff 62px,#1923ff 88px,#8d00ff 201px,#9600ff 209px)"></i>
<i style="background:linear-gradient(90deg,#002bff 56px,#0129ff 63px,#1324ff 82px,#8900ff 199px,#9200ff 207px)"></i>
<i style="background:linear-gradient(90deg,#002aff 57px,#0028ff 63px,#1522ff 85px,#8600ff 197px,#8e00ff 205px)"></i>
<i style="background:linear-gradient(90deg,#0029ff 57px,#0127ff 64px,#0d23ff 77px,#8100ff 194px,#8900ff 202px)"></i>
<i style="background:linear-gradient(90deg,#0028ff 58px,#0026ff 64px,#0f22ff 80px,#7d00ff 192px,#8600ff 200px)"></i>
<i style="background:linear-gradient(90deg,#0027ff 58px,#0025ff 64px,#0823ff 73px,#7a00ff 190px,#8200ff 198px)"></i>
<i style="background:linear-gradient(90deg,#0026ff 59px,#0024ff 65px,#0a21ff 76px,#7600ff 188px,#7e00ff 196px)"></i>
<i style="background:linear-gradient(90deg,#0025ff 59px,#0023ff 65px,#0222ff 68px,#7200ff 185px,#7a00ff 193px)"></i>
<i style="background:linear-gradient(90deg,#0023ff 60px,#0022ff 66px,#0520ff 71px,#6f00ff 183px,#7700ff 191px)"></i>
<i style="background:linear-gradient(90deg,#0022ff 60px,#0121ff 67px,#6b00ff 181px,#7300ff 189px)"></i>
<i style="background:linear-gradient(90deg,#0021ff 61px,#0020ff 67px,#6800ff 179px,#6f00ff 186px)"></i>
<i style="background:linear-gradient(90deg,#0020ff 61px,#011fff 68px,#6400ff 176px,#6c00ff 184px)"></i>
<i style="background:linear-gradient(90deg,#001fff 62px,#001eff 68px,#6100ff 174px,#6900ff 182px)"></i>
<i style="background:linear-gradient(90deg,#001eff 62px,#011dff 69px,#5e00ff 172px,#6500ff 180px)"></i>
<i style="background:linear-gradient(90deg,#001dff 63px,#001cff 69px,#5a00ff 169px,#6100ff 177px)"></i>
<i style="background:linear-gradient(90deg,#001dff 63px,#011bff 70px,#5700ff 167px,#5e00ff 175px)"></i>
<i style="background:linear-gradient(90deg,#001bff 64px,#001aff 70px,#5400ff 165px,#5b00ff 173px)"></i>
<i style="background:linear-gradient(90deg,#001bff 64px,#0119ff 71px,#5100ff 163px,#5900ff 171px)"></i>
<i style="background:linear-gradient(90deg,#001aff 65px,#0018ff 71px,#4e00ff 160px,#5500ff 168px)"></i>
<i style="background:linear-gradient(90deg,#0019ff 65px,#0017ff 71px,#4b00ff 158px,#5200ff 166px)"></i>
<i style="background:linear-gradient(90deg,#0018ff 65px,#0016ff 72px,#4800ff 156px,#4f00ff 164px)"></i>
<i style="background:linear-gradient(90deg,#0017ff 66px,#0016ff 72px,#4500ff 154px,#4c00ff 162px)"></i>
<i style="background:linear-gradient(90deg,#0016ff 66px,#0015ff 73px,#4200ff 151px,#4900ff 159px)"></i>
<i style="background:linear-gradient(90deg,#0015ff 67px,#0014ff 73px,#3f00ff 149px,#4600ff 157px)"></i>
<i style="background:linear-gradient(90deg,#0015ff 67px,#0013ff 74px,#3d00ff 147px,#4400ff 155px)"></i>
<i style="background:linear-gradient(90deg,#0014ff 68px,#0012ff 74px,#3a00ff 145px,#4000ff 152px)"></i>
<i style="background:linear-gradient(90deg,#0013ff 68px,#0111ff 75px,#3700ff 142px,#3e00ff 150px)"></i>
<i style="background:linear-gradient(90deg,#0012ff 69px,#0010ff 75px,#3500ff 140px,#3b00ff 148px)"></i>
<i style="background:linear-gradient(90deg,#0011ff 69px,#0110ff 76px,#3200ff 138px,#3900ff 146px)"></i>
<i style="background:linear-gradient(90deg,#0010ff 70px,#000fff 76px,#3600ff 143px)"></i>
<i style="background:linear-gradient(90deg,#0010ff 70px,#010eff 77px,#3300ff 141px)"></i>
<i style="background:linear-gradient(90deg,#000fff 71px,#000dff 77px,#2b00ff 131px,#3100ff 139px)"></i>
<i style="background:linear-gradient(90deg,#000eff 71px,#010cff 78px,#2800ff 129px,#2f00ff 137px)"></i>
<i style="background:linear-gradient(90deg,#000dff 72px,#000cff 78px,#2c00ff 134px)"></i>
<i style="background:linear-gradient(90deg,#000dff 72px,#010bff 79px,#2900ff 132px)"></i>
<i style="background:linear-gradient(90deg,#000cff 73px,#000aff 79px,#2700ff 130px)"></i>
<i style="background:linear-gradient(90deg,#000bff 73px,#010aff 80px,#2500ff 128px)"></i>
<i style="background:linear-gradient(90deg,#000aff 74px,#0009ff 80px,#2200ff 125px)"></i>
<i style="background:linear-gradient(90deg,#000aff 74px,#0008ff 80px,#2000ff 123px)"></i>
<i style="background:linear-gradient(90deg,#0009ff 75px,#0008ff 81px,#1e00ff 121px)"></i>
<i style="background:linear-gradient(90deg,#0008ff 75px,#0007ff 81px,#1b00ff 118px)"></i>
<i style="background:linear-gradient(90deg,#0008ff 75px,#0006ff 82px,#1900ff 116px)"></i>
<i style="background:linear-gradient(90deg,#0007ff 76px,#0006ff 82px,#1700ff 114px)"></i>
<i style="background:linear-gradient(90deg,#0006ff 76px,#0005ff 83px,#1500ff 112px)"></i>
<i style="background:linear-gradient(90deg,#0006ff 77px,#0004ff 83px,#1300ff 109px)"></i>
<i style="background:linear-gradient(90deg,#0005ff 77px,#0004ff 84px,#1100ff 107px)"></i>
<i style="background:linear-gradient(90deg,#0004ff 78px,#0003ff 84px,#0f00ff 105px)"></i>
<i style="background:linear-gradient(90deg,#0004ff 78px,#0002ff 85px,#0d00ff 103px)"></i>
<i style="background:linear-gradient(90deg,#0003ff 79px,#0002ff 85px,#0b00ff 100px)"></i>
<i style="background:linear-gradient(90deg,#0003ff 79px,#0001ff 85px,#0900ff 98px)"></i>
<i style="background:linear-gradient(90deg,#0002ff 80px,#0000ff 86px,#0700ff 96px)"></i>
<i style="background:linear-gradient(90deg,#0001ff 80px,#0000ff 86px,#0500ff 94px)"></i>
</div>
<svg style="left:0;top:0" width="1920" height="1155">
<path d="M1245 723V212H1909V723H1245" stroke="#8a8a8a" stroke-width="1.7" fill="none"/>
<path d="M1245 724v5.5M1238.5 723h5.5" stroke="#d0d0d0" stroke-width="1.7"/>
<path d="M1300 724v5.5" stroke="#d0d0d0" stroke-width="1.7"/>
<path d="M1238.5 681h5.5" stroke="#d0d0d0" stroke-width="1.7"/>
<path d="M1355 724v5.5" stroke="#d0d0d0" stroke-width="1.7"/>
<path d="M1238.5 638h5.5" stroke="#d0d0d0" stroke-width="1.7"/>
<path d="M1411 724v5.5" stroke="#d0d0d0" stroke-width="1.7"/>
<path d="M1238.5 596h5.5" stroke="#d0d0d0" stroke-width="1.7"/>
<path d="M1466 724v5.5" stroke="#d0d0d0" stroke-width="1.7"/>
<path d="M1238.5 553h5.5" stroke="#d0d0d0" stroke-width="1.7"/>
<path d="M1521 724v5.5" stroke="#d0d0d0" stroke-width="1.7"/>
<path d="M1238.5 511h5.5" stroke="#d0d0d0" stroke-width="1.7"/>
<path d="M1576 724v5.5" stroke="#d0d0d0" stroke-width="1.7"/>
<path d="M1238.5 468h5.5" stroke="#d0d0d0" stroke-width="1.7"/>
<path d="M1632 724v5.5" stroke="#d0d0d0" stroke-width="1.7"/>
<path d="M1238.5 426h5.5" stroke="#d0d0d0" stroke-width="1.7"/>
<path d="M1687 724v5.5" stroke="#d0d0d0" stroke-width="1.7"/>
<path d="M1238.5 383h5.5" stroke="#d0d0d0" stroke-width="1.7"/>
<path d="M1742 724v5.5" stroke="#d0d0d0" stroke-width="1.7"/>
<path d="M1238.5 341h5.5" stroke="#d0d0d0" stroke-width="1.7"/>
<path d="M1797 724v5.5" stroke="#d0d0d0" stroke-width="1.7"/>
<path d="M1238.5 298h5.5" stroke="#d0d0d0" stroke-width="1.7"/>
<path d="M1852 724v5.5" stroke="#d0d0d0" stroke-width="1.7"/>
<path d="M1238.5 256h5.5" stroke="#d0d0d0" stroke-width="1.7"/>
</svg>
<span class="t" style="left:1240.8px;top:732.50px;font-size:14.8px;color:#dedede;transform:scaleX(1.020)">0</span>
<span class="t" style="left:1230.2px;top:717.90px;font-size:14.8px;color:#dedede;transform:scaleX(1.020)">0</span>
<span class="t" style="left:1285.2px;top:732.50px;font-size:14.8px;color:#dedede;transform:scaleX(1.041)">0,05</span>
<span class="t" style="left:1208.6px;top:674.58px;font-size:14.8px;color:#dedede;transform:scaleX(1.041)">0,05</span>
<span class="t" style="left:1344.8px;top:732.50px;font-size:14.8px;color:#dedede;transform:scaleX(1.035)">0,1</span>
<span class="t" style="left:1217.3px;top:631.85px;font-size:14.8px;color:#dedede;transform:scaleX(1.035)">0,1</span>
<span class="t" style="left:1395.7px;top:732.50px;font-size:14.8px;color:#dedede;transform:scaleX(1.041)">0,15</span>
<span class="t" style="left:1208.6px;top:589.62px;font-size:14.8px;color:#dedede;transform:scaleX(1.041)">0,15</span>
<span class="t" style="left:1455.2px;top:732.50px;font-size:14.8px;color:#dedede;transform:scaleX(1.035)">0,2</span>
<span class="t" style="left:1217.3px;top:546.90px;font-size:14.8px;color:#dedede;transform:scaleX(1.035)">0,2</span>
<span class="t" style="left:1506.1px;top:732.50px;font-size:14.8px;color:#dedede;transform:scaleX(1.041)">0,25</span>
<span class="t" style="left:1208.6px;top:504.68px;font-size:14.8px;color:#dedede;transform:scaleX(1.041)">0,25</span>
<span class="t" style="left:1565.7px;top:732.50px;font-size:14.8px;color:#dedede;transform:scaleX(1.035)">0,3</span>
<span class="t" style="left:1217.3px;top:461.95px;font-size:14.8px;color:#dedede;transform:scaleX(1.035)">0,3</span>
<span class="t" style="left:1616.6px;top:732.50px;font-size:14.8px;color:#dedede;transform:scaleX(1.041)">0,35</span>
<span class="t" style="left:1208.6px;top:419.72px;font-size:14.8px;color:#dedede;transform:scaleX(1.041)">0,35</span>
<span class="t" style="left:1676.1px;top:732.50px;font-size:14.8px;color:#dedede;transform:scaleX(1.035)">0,4</span>
<span class="t" style="left:1217.3px;top:377.00px;font-size:14.8px;color:#dedede;transform:scaleX(1.035)">0,4</span>
<span class="t" style="left:1727.0px;top:732.50px;font-size:14.8px;color:#dedede;transform:scaleX(1.041)">0,45</span>
<span class="t" style="left:1208.6px;top:334.52px;font-size:14.8px;color:#dedede;transform:scaleX(1.041)">0,45</span>
<span class="t" style="left:1786.6px;top:732.50px;font-size:14.8px;color:#dedede;transform:scaleX(1.035)">0,5</span>
<span class="t" style="left:1217.3px;top:292.05px;font-size:14.8px;color:#dedede;transform:scaleX(1.035)">0,5</span>
<span class="t" style="left:1837.5px;top:732.50px;font-size:14.8px;color:#dedede;transform:scaleX(1.041)">0,55</span>
<span class="t" style="left:1208.6px;top:249.57px;font-size:14.8px;color:#dedede;transform:scaleX(1.041)">0,55</span>
<svg style="left:0;top:0" width="1920" height="1155">
<g fill="none" stroke="#fff" stroke-width="1.3">
<rect x="1346.4" y="223.2" width="14" height="14"/>
<rect x="1359.2" y="234.5" width="14" height="14"/>
<rect x="1375.1" y="247.3" width="14" height="14"/>
<rect x="1394.4" y="264.1" width="14" height="14"/>
<rect x="1421.4" y="286.5" width="14" height="14"/>
<rect x="1464.1" y="234.7" width="14" height="14"/>
<rect x="1462.4" y="247.7" width="14" height="14"/>
<rect x="1460.6" y="261.5" width="14" height="14"/>
<rect x="1459.5" y="276.7" width="14" height="14"/>
<rect x="1458.0" y="293.6" width="14" height="14"/>
<rect x="1370.3" y="329.3" width="14" height="14"/>
<rect x="1386.3" y="326.3" width="14" height="14"/>
<rect x="1403.0" y="323.1" width="14" height="14"/>
<rect x="1419.0" y="321.4" width="14" height="14"/>
<rect x="1437.1" y="319.3" width="14" height="14"/>
<rect x="1785.9" y="267.0" width="14" height="14"/>
<rect x="1718.3" y="276.9" width="14" height="14"/>
<rect x="1653.1" y="286.7" width="14" height="14"/>
<rect x="1581.0" y="297.8" width="14" height="14"/>
<rect x="1517.3" y="306.5" width="14" height="14"/>
<rect x="1596.9" y="435.1" width="14" height="14"/>
<rect x="1560.0" y="404.1" width="14" height="14"/>
<rect x="1528.7" y="377.3" width="14" height="14"/>
<rect x="1500.4" y="354.5" width="14" height="14"/>
<rect x="1476.4" y="333.5" width="14" height="14"/>
<rect x="1431.1" y="580.6" width="14" height="14"/>
<rect x="1438.6" y="503.0" width="14" height="14"/>
<rect x="1443.9" y="440.6" width="14" height="14"/>
<rect x="1448.4" y="391.4" width="14" height="14"/>
<rect x="1452.5" y="348.8" width="14" height="14"/>
</g>
<g stroke="#151515" stroke-width="1.3">
<circle cx="1339.4" cy="228.8" r="4.5" fill="#04c404"/>
<circle cx="1342.1" cy="240.4" r="4.5" fill="#6cc06c"/>
<circle cx="1367.5" cy="259.8" r="4.5" fill="#80b880"/>
<circle cx="1408.8" cy="288.3" r="4.5" fill="#98b490"/>
<circle cx="1473.7" cy="244.2" r="4.5" fill="#b4b040"/>
<circle cx="1474.9" cy="241.0" r="4.5" fill="#c8c400"/>
<circle cx="1472.2" cy="258.5" r="4.5" fill="#b8b464"/>
<circle cx="1469.6" cy="275.5" r="4.5" fill="#b4b080"/>
<circle cx="1466.7" cy="295.2" r="4.5" fill="#b4b094"/>
<circle cx="1363.4" cy="334.8" r="4.5" fill="#08c0c8"/>
<circle cx="1382.0" cy="334.8" r="4.5" fill="#70c0c0"/>
<circle cx="1405.9" cy="330.4" r="4.5" fill="#88b8b8"/>
<circle cx="1434.3" cy="326.0" r="4.5" fill="#a0b8b4"/>
<circle cx="1789.9" cy="274.0" r="4.5" fill="#cc0404"/>
<circle cx="1774.8" cy="279.3" r="4.5" fill="#c84848"/>
<circle cx="1717.6" cy="288.3" r="4.5" fill="#c06060"/>
<circle cx="1637.6" cy="299.7" r="4.5" fill="#c07878"/>
<circle cx="1555.8" cy="310.8" r="4.5" fill="#b89090"/>
<circle cx="1621.9" cy="426.5" r="4.5" fill="#c408c8"/>
<circle cx="1600.8" cy="411.0" r="4.5" fill="#b850b8"/>
<circle cx="1561.2" cy="388.4" r="4.5" fill="#b878b4"/>
<circle cx="1527.4" cy="365.6" r="4.5" fill="#b488b0"/>
<circle cx="1495.1" cy="342.9" r="4.5" fill="#b0a0b4"/>
<circle cx="1425.4" cy="604.7" r="4.5" fill="#0808c8"/>
<circle cx="1434.3" cy="533.8" r="4.5" fill="#5050c0"/>
<circle cx="1444.0" cy="466.0" r="4.5" fill="#7070c0"/>
<circle cx="1450.9" cy="411.0" r="4.5" fill="#8888b8"/>
<circle cx="1458.4" cy="363.0" r="4.5" fill="#9c9cb4"/>
</g>
<rect x="1455.2" y="316.9" width="13.6" height="13.6" fill="none" stroke="#000" stroke-width="1.8"/>
<circle cx="1462" cy="323.7" r="4.2" fill="#fff" stroke="#222" stroke-width="1.3"/>
<circle cx="1476.4" cy="284" r="4.8" fill="#000"/>
</svg>
<div class="a" style="left:1679px;top:562.4px;width:225.7px;height:154.5px;background:#303030"></div>
<div class="a" style="left:1681.6px;top:564.8px;width:220.8px;height:149.8px;background:#9a9a9a"></div>
<div class="a" style="left:1683px;top:566px;width:218px;height:148px;background:#252525;overflow:hidden"><div class="a rw" style="left:0;top:0;width:218px;height:148px;clip-path:polygon(-1044.2px 1646.1px,-1044.5px 1646.1px,-1045.0px 1646.1px,-1045.5px 1646.1px,-1046.1px 1646.1px,-1046.6px 1646.1px,-1047.3px 1646.1px,-1047.9px 1646.1px,-1048.6px 1646.1px,-1049.5px 1646.1px,-1050.3px 1645.9px,-1051.3px 1645.6px,-1052.5px 1645.2px,-1053.9px 1644.6px,-1055.5px 1643.9px,-1057.3px 1643.1px,-1059.1px 1642.2px,-1061.1px 1641.1px,-1063.4px 1639.8px,-1066.0px 1638.4px,-1069.0px 1636.7px,-1072.1px 1634.8px,-1075.5px 1632.7px,-1079.1px 1630.5px,-1083.0px 1628.0px,-1087.4px 1625.4px,-1092.1px 1622.6px,-1097.4px 1619.4px,-1103.4px 1615.9px,-1109.9px 1612.1px,-1117.0px 1607.9px,-1124.6px 1603.4px,-1132.7px 1598.6px,-1141.4px 1593.1px,-1150.9px 1587.0px,-1161.1px 1580.2px,-1172.0px 1572.4px,-1183.4px 1563.8px,-1195.5px 1554.3px,-1209.0px 1542.2px,-1224.2px 1527.4px,-1240.7px 1510.1px,-1258.7px 1489.2px,-1278.2px 1464.8px,-1299.2px 1436.9px,-1322.0px 1403.3px,-1346.6px 1364.2px,-1373.1px 1319.5px,-1401.7px 1267.5px,-1433.1px 1208.1px,-1466.5px 1141.5px,-1500.3px 1066.2px,-1534.1px 981.5px,-1568.3px 888.1px,-1601.9px 787.1px,-1635.2px 676.9px,-1667.9px 559.1px,-1697.3px 438.7px,-1723.5px 315.4px,-1746.4px 189.5px,-1764.1px 66.6px,-1776.2px -52.6px,-1782.9px -168.7px,-1782.8px -277.9px,-1775.3px -380.4px,-1760.9px -475.9px,-1739.2px -560.3px,-1709.4px -633.1px,-1672.3px -694.7px,-1630.2px -743.3px,-1582.8px -776.8px,-1530.4px -797.1px,-1475.9px -807.8px,-1419.4px -808.1px,-1360.8px -798.8px,-1301.9px -785.3px,-1242.9px -768.5px,-1183.5px -747.5px,-1125.3px -725.2px,-1068.8px -702.4px,-1013.4px -678.3px,-958.8px -653.3px,-904.9px -627.3px,-851.7px -600.3px,-798.8px -572.5px,-745.9px -543.7px,-693.3px -514.0px,-640.9px -483.7px,-588.7px -452.7px,-536.8px -421.0px,-484.8px -388.9px,-432.9px -356.4px,-381.1px -323.4px,-329.2px -290.1px,-277.2px -256.4px,-225.1px -222.4px,-173.1px -188.3px,-121.3px -153.9px,-69.5px -119.4px,-17.9px -85.0px,33.7px -50.5px,85.3px -16.0px,136.5px 18.4px,187.3px 52.6px,237.8px 86.7px,287.8px 120.5px,337.3px 154.0px,386.3px 187.2px,434.7px 219.9px,482.4px 252.2px,529.4px 284.1px,575.5px 315.2px,620.8px 345.7px,665.1px 375.6px,708.1px 404.6px,749.8px 432.9px,790.2px 460.4px,828.8px 486.6px,865.5px 511.4px,900.4px 535.0px,933.9px 557.7px,966.2px 579.5px,997.2px 600.4px,1026.3px 620.1px,1053.6px 638.4px,1079.1px 655.5px,1103.1px 671.6px,1125.4px 686.7px,1146.1px 700.8px,1165.4px 714.0px,1183.3px 726.1px,1199.8px 737.3px,1215.1px 747.7px,1229.4px 757.3px,1242.5px 766.1px,1254.8px 774.3px,1266.2px 782.0px,1276.7px 789.2px,1286.6px 795.9px,1296.1px 802.3px,1304.9px 808.4px,1313.2px 814.0px,1321.0px 819.3px,1328.3px 824.2px,1335.0px 828.8px,1341.3px 833.0px,1347.1px 836.8px,1352.5px 840.3px,1357.3px 843.6px,1361.6px 846.5px,1365.6px 849.2px,1369.2px 851.7px,1372.5px 854.0px,1375.6px 856.0px,1378.3px 857.9px,1380.8px 859.6px,1383.0px 861.1px,1384.8px 862.3px,1386.4px 863.3px,1387.8px 864.3px,1389.2px 865.3px,1390.5px 866.2px,1391.7px 867.0px,1392.8px 867.7px,1393.8px 868.4px,1394.8px 869.1px,1395.8px 869.8px,1396.8px 870.5px,1397.8px 871.1px,1398.8px 871.8px,1399.6px 872.4px,1400.4px 872.9px,1401.1px 873.4px,1401.7px 873.8px,1402.2px 874.1px,1402.5px 874.3px,1402.8px 874.5px,1403.0px 874.7px,1403.2px 874.8px,1403.4px 874.9px,1403.5px 875.0px)"><i style="background:linear-gradient(90deg,#769900 0px,#999900 174px,#999000 218px)"></i>
<i style="background:linear-gradient(90deg,#769900 0px,#999900 172px,#999000 218px)"></i>
<i style="background:linear-gradient(90deg,#769900 0px,#999900 170px,#998f00 218px)"></i>
<i style="background:linear-gradient(90deg,#769900 0px,#999900 169px,#998f00 218px)"></i>
<i style="background:linear-gradient(90deg,#779900 0px,#999900 167px,#998f00 218px)"></i>
<i style="background:linear-gradient(90deg,#779900 0px,#999900 165px,#998e00 218px)"></i>
<i style="background:linear-gradient(90deg,#779900 0px,#999900 163px,#998e00 218px)"></i>
<i style="background:linear-gradient(90deg,#789901 0px,#999900 162px,#998e00 218px)"></i>
<i style="background:linear-gradient(90deg,#789901 0px,#999900 160px,#998d00 218px)"></i>
<i style="background:linear-gradient(90deg,#789901 0px,#999900 158px,#998d00 218px)"></i>
<i style="background:linear-gradient(90deg,#799901 0px,#999900 156px,#998c00 218px)"></i>
<i style="background:linear-gradient(90deg,#799901 0px,#999900 154px,#998c00 218px)"></i>
<i style="background:linear-gradient(90deg,#799901 0px,#999900 153px,#998c00 218px)"></i>
<i style="background:linear-gradient(90deg,#7a9902 0px,#999900 151px,#998b00 218px)"></i>
<i style="background:linear-gradient(90deg,#7a9902 0px,#999900 149px,#998b00 218px)"></i>
<i style="background:linear-gradient(90deg,#7a9902 0px,#999900 147px,#998b00 218px)"></i>
<i style="background:linear-gradient(90deg,#7a9902 0px,#999900 146px,#998a00 218px)"></i>
<i style="background:linear-gradient(90deg,#7b9902 0px,#999900 144px,#998a00 218px)"></i>
<i style="background:linear-gradient(90deg,#7b9902 0px,#859900 48px,#999900 142px,#998a00 218px)"></i>
<i style="background:linear-gradient(90deg,#7b9903 0px,#869900 51px,#999900 140px,#998900 218px)"></i>
<i style="background:linear-gradient(90deg,#7c9903 0px,#879900 55px,#999900 138px,#998900 218px)"></i>
<i style="background:linear-gradient(90deg,#7c9903 0px,#889900 58px,#999900 137px,#998900 218px)"></i>
<i style="background:linear-gradient(90deg,#7c9903 0px,#899900 61px,#999900 135px,#998800 218px)"></i>
<i style="background:linear-gradient(90deg,#7d9903 0px,#8a9900 65px,#999900 133px,#998800 218px)"></i>
<i style="background:linear-gradient(90deg,#7d9904 0px,#8b9900 68px,#999900 131px,#998700 218px)"></i>
<i style="background:linear-gradient(90deg,#7d9904 0px,#8c9900 71px,#999900 130px,#998700 218px)"></i>
<i style="background:linear-gradient(90deg,#7e9904 0px,#8d9900 74px,#999900 128px,#998700 218px)"></i>
<i style="background:linear-gradient(90deg,#7e9904 0px,#999900 126px,#998600 218px)"></i>
<i style="background:linear-gradient(90deg,#7e9904 0px,#999900 124px,#998600 218px)"></i>
<i style="background:linear-gradient(90deg,#7f9904 0px,#999900 122px,#998600 218px)"></i>
<i style="background:linear-gradient(90deg,#7f9905 0px,#999900 121px,#998500 218px)"></i>
<i style="background:linear-gradient(90deg,#7f9905 0px,#999900 119px,#998500 218px)"></i>
<i style="background:linear-gradient(90deg,#809905 0px,#999900 117px,#998500 218px)"></i>
<i style="background:linear-gradient(90deg,#809905 0px,#999900 115px,#998400 218px)"></i>
<i style="background:linear-gradient(90deg,#809905 0px,#999900 114px,#998400 218px)"></i>
<i style="background:linear-gradient(90deg,#819906 0px,#999900 112px,#998400 218px)"></i>
<i style="background:linear-gradient(90deg,#819906 0px,#999900 110px,#998300 218px)"></i>
<i style="background:linear-gradient(90deg,#819906 0px,#999900 108px,#998300 218px)"></i>
<i style="background:linear-gradient(90deg,#829906 0px,#999900 107px,#998300 218px)"></i>
<i style="background:linear-gradient(90deg,#829906 0px,#999901 105px,#998200 218px)"></i>
<i style="background:linear-gradient(90deg,#829907 0px,#999901 103px,#998200 218px)"></i>
<i style="background:linear-gradient(90deg,#839907 0px,#999901 101px,#998200 218px)"></i>
<i style="background:linear-gradient(90deg,#839907 0px,#999902 99px,#998100 218px)"></i>
<i style="background:linear-gradient(90deg,#839907 0px,#999902 98px,#998100 218px)"></i>
<i style="background:linear-gradient(90deg,#849907 0px,#999902 96px,#998100 218px)"></i>
<i style="background:linear-gradient(90deg,#849907 0px,#999902 94px,#998000 218px)"></i>
<i style="background:linear-gradient(90deg,#859908 0px,#999903 92px,#998e00 141px,#998000 218px)"></i>
<i style="background:linear-gradient(90deg,#859908 0px,#999903 91px,#998d00 144px,#998000 218px)"></i>
<i style="background:linear-gradient(90deg,#859908 0px,#999903 89px,#998c00 147px,#997f00 218px)"></i>
<i style="background:linear-gradient(90deg,#869908 0px,#999904 87px,#998b00 150px,#997f00 218px)"></i>
<i style="background:linear-gradient(90deg,#869908 0px,#999904 85px,#998a00 154px,#997e00 218px)"></i>
<i style="background:linear-gradient(90deg,#869909 0px,#999904 83px,#998900 157px,#997e00 218px)"></i>
<i style="background:linear-gradient(90deg,#879909 0px,#999904 82px,#998800 160px,#997e00 218px)"></i>
<i style="background:linear-gradient(90deg,#879909 0px,#999905 80px,#998700 164px,#997d00 218px)"></i>
<i style="background:linear-gradient(90deg,#879909 0px,#999905 78px,#998600 167px,#997d00 218px)"></i>
<i style="background:linear-gradient(90deg,#889909 0px,#999905 76px,#998500 170px,#997d00 218px)"></i>
<i style="background:linear-gradient(90deg,#88990a 0px,#999906 75px,#998400 173px,#997c00 218px)"></i>
<i style="background:linear-gradient(90deg,#89990a 0px,#999906 73px,#998300 177px,#997c00 218px)"></i>
<i style="background:linear-gradient(90deg,#89990a 0px,#999906 71px,#998200 180px,#997c00 218px)"></i>
<i style="background:linear-gradient(90deg,#89990a 0px,#999907 69px,#997b00 218px)"></i>
<i style="background:linear-gradient(90deg,#8a990a 0px,#999907 67px,#997b00 218px)"></i>
<i style="background:linear-gradient(90deg,#8a990b 0px,#999907 66px,#997b00 218px)"></i>
<i style="background:linear-gradient(90deg,#8a990b 0px,#999907 64px,#997a00 218px)"></i>
<i style="background:linear-gradient(90deg,#8b990b 0px,#999908 62px,#997a00 218px)"></i>
<i style="background:linear-gradient(90deg,#8b990b 0px,#999908 60px,#997a00 218px)"></i>
<i style="background:linear-gradient(90deg,#8c990c 0px,#999908 59px,#997900 218px)"></i>
<i style="background:linear-gradient(90deg,#8c990c 0px,#999909 57px,#997900 218px)"></i>
<i style="background:linear-gradient(90deg,#8c990c 0px,#999909 55px,#997900 218px)"></i>
<i style="background:linear-gradient(90deg,#8d990c 0px,#999909 53px,#997800 218px)"></i>
<i style="background:linear-gradient(90deg,#8d990c 0px,#99990a 52px,#997800 218px)"></i>
<i style="background:linear-gradient(90deg,#8d990d 0px,#99990a 50px,#997800 218px)"></i>
<i style="background:linear-gradient(90deg,#8e990d 0px,#99990a 48px,#997700 218px)"></i>
<i style="background:linear-gradient(90deg,#8e990d 0px,#99990b 46px,#997700 218px)"></i>
<i style="background:linear-gradient(90deg,#8f990d 0px,#99990b 44px,#998705 127px,#997701 218px)"></i></div><div class="a rw" style="left:0;top:0;width:218px;height:148px;clip-path:polygon(1165.0px 713.1px,-644.4px -382.1px,-1145.8px 1482.7px)"><i style="background:linear-gradient(90deg,#c4ff00 0px,#ffff00 174px,#fff000 218px)"></i>
<i style="background:linear-gradient(90deg,#c4ff00 0px,#ffff00 172px,#ffef00 218px)"></i>
<i style="background:linear-gradient(90deg,#c5ff00 0px,#ffff00 170px,#ffef00 218px)"></i>
<i style="background:linear-gradient(90deg,#c5ff00 0px,#ffff00 169px,#ffee00 218px)"></i>
<i style="background:linear-gradient(90deg,#c6ff00 0px,#ffff00 167px,#ffee00 218px)"></i>
<i style="background:linear-gradient(90deg,#c6ff00 0px,#ffff00 165px,#ffed00 218px)"></i>
<i style="background:linear-gradient(90deg,#c7ff01 0px,#ffff00 163px,#ffec00 218px)"></i>
<i style="background:linear-gradient(90deg,#c7ff01 0px,#ffff00 162px,#ffec00 218px)"></i>
<i style="background:linear-gradient(90deg,#c8ff01 0px,#ffff00 160px,#ffeb00 218px)"></i>
<i style="background:linear-gradient(90deg,#c8ff02 0px,#ffff00 158px,#ffeb00 218px)"></i>
<i style="background:linear-gradient(90deg,#c9ff02 0px,#ffff00 156px,#ffea00 218px)"></i>
<i style="background:linear-gradient(90deg,#c9ff02 0px,#d2ff00 25px,#ffff00 154px,#ffe900 218px)"></i>
<i style="background:linear-gradient(90deg,#caff02 0px,#d4ff00 29px,#ffff00 153px,#ffe900 218px)"></i>
<i style="background:linear-gradient(90deg,#cbff03 0px,#d5ff00 32px,#ffff00 151px,#ffe800 218px)"></i>
<i style="background:linear-gradient(90deg,#cbff03 0px,#d7ff00 35px,#ffff00 149px,#ffe800 218px)"></i>
<i style="background:linear-gradient(90deg,#ccff03 0px,#d8ff00 38px,#ffff00 147px,#ffe700 218px)"></i>
<i style="background:linear-gradient(90deg,#ccff04 0px,#daff00 42px,#ffff00 146px,#ffe600 218px)"></i>
<i style="background:linear-gradient(90deg,#cdff04 0px,#dcff00 45px,#ffff00 144px,#ffe600 218px)"></i>
<i style="background:linear-gradient(90deg,#cdff04 0px,#ddff00 48px,#ffff00 142px,#ffe500 218px)"></i>
<i style="background:linear-gradient(90deg,#ceff04 0px,#dfff00 51px,#ffff00 140px,#ffe500 218px)"></i>
<i style="background:linear-gradient(90deg,#ceff05 0px,#e1ff00 55px,#ffff00 138px,#ffe400 218px)"></i>
<i style="background:linear-gradient(90deg,#cfff05 0px,#e3ff00 58px,#ffff00 137px,#ffe400 218px)"></i>
<i style="background:linear-gradient(90deg,#cfff05 0px,#e4ff00 61px,#ffff00 135px,#ffe300 218px)"></i>
<i style="background:linear-gradient(90deg,#d0ff06 0px,#e6ff00 65px,#ffff00 133px,#ffe200 218px)"></i>
<i style="background:linear-gradient(90deg,#d0ff06 0px,#e8ff00 68px,#ffff00 131px,#ffe200 218px)"></i>
<i style="background:linear-gradient(90deg,#d1ff06 0px,#eaff00 71px,#ffff00 130px,#ffe100 218px)"></i>
<i style="background:linear-gradient(90deg,#d1ff07 0px,#ebff00 74px,#ffff00 128px,#ffe100 218px)"></i>
<i style="background:linear-gradient(90deg,#d2ff07 0px,#edff00 78px,#ffff00 126px,#ffe000 218px)"></i>
<i style="background:linear-gradient(90deg,#d3ff07 0px,#efff00 81px,#ffff00 124px,#ffdf00 218px)"></i>
<i style="background:linear-gradient(90deg,#d3ff07 0px,#f1ff00 84px,#ffff00 122px,#ffdf00 218px)"></i>
<i style="background:linear-gradient(90deg,#d4ff08 0px,#f3ff00 88px,#ffff00 121px,#ffde00 218px)"></i>
<i style="background:linear-gradient(90deg,#d4ff08 0px,#f5ff00 91px,#ffff00 119px,#ffde00 218px)"></i>
<i style="background:linear-gradient(90deg,#d5ff08 0px,#f6ff00 94px,#ffff00 117px,#ffdd00 218px)"></i>
<i style="background:linear-gradient(90deg,#d5ff09 0px,#ffff00 115px,#ffdd00 218px)"></i>
<i style="background:linear-gradient(90deg,#d6ff09 0px,#ffff00 114px,#ffdc00 218px)"></i>
<i style="background:linear-gradient(90deg,#d6ff09 0px,#ffff00 112px,#ffdb00 218px)"></i>
<i style="background:linear-gradient(90deg,#d7ff0a 0px,#ffff00 110px,#ffdb00 218px)"></i>
<i style="background:linear-gradient(90deg,#d8ff0a 0px,#ffff00 108px,#ffda00 218px)"></i>
<i style="background:linear-gradient(90deg,#d8ff0a 0px,#ffff01 107px,#ffda00 218px)"></i>
<i style="background:linear-gradient(90deg,#d9ff0b 0px,#ffff01 105px,#ffd900 218px)"></i>
<i style="background:linear-gradient(90deg,#d9ff0b 0px,#ffff02 103px,#ffd900 218px)"></i>
<i style="background:linear-gradient(90deg,#daff0b 0px,#ffff02 101px,#fff700 124px,#ffd800 218px)"></i>
<i style="background:linear-gradient(90deg,#daff0b 0px,#ffff03 99px,#fff400 128px,#ffd700 218px)"></i>
<i style="background:linear-gradient(90deg,#dbff0c 0px,#ffff03 98px,#fff300 131px,#ffd700 218px)"></i>
<i style="background:linear-gradient(90deg,#dcff0c 0px,#ffff04 96px,#fff100 134px,#ffd600 218px)"></i>
<i style="background:linear-gradient(90deg,#dcff0c 0px,#ffff04 94px,#ffef00 137px,#ffd600 218px)"></i>
<i style="background:linear-gradient(90deg,#ddff0d 0px,#ffff05 92px,#ffed00 141px,#ffd500 218px)"></i>
<i style="background:linear-gradient(90deg,#ddff0d 0px,#ffff05 91px,#ffec00 144px,#ffd500 218px)"></i>
<i style="background:linear-gradient(90deg,#deff0d 0px,#ffff05 89px,#ffea00 147px,#ffd400 218px)"></i>
<i style="background:linear-gradient(90deg,#dfff0e 0px,#ffff06 87px,#ffe800 150px,#ffd300 218px)"></i>
<i style="background:linear-gradient(90deg,#dfff0e 0px,#ffff06 85px,#ffe700 154px,#ffd300 218px)"></i>
<i style="background:linear-gradient(90deg,#e0ff0e 0px,#ffff07 83px,#ffe500 157px,#ffd200 218px)"></i>
<i style="background:linear-gradient(90deg,#e0ff0f 0px,#ffff07 82px,#ffe300 160px,#ffd200 218px)"></i>
<i style="background:linear-gradient(90deg,#e1ff0f 0px,#ffff08 80px,#ffe100 164px,#ffd100 218px)"></i>
<i style="background:linear-gradient(90deg,#e2ff0f 0px,#ffff08 78px,#ffe000 167px,#ffd100 218px)"></i>
<i style="background:linear-gradient(90deg,#e2ff10 0px,#ffff09 76px,#ffde00 170px,#ffd000 218px)"></i>
<i style="background:linear-gradient(90deg,#e3ff10 0px,#ffff09 75px,#ffdd00 173px,#ffcf00 218px)"></i>
<i style="background:linear-gradient(90deg,#e4ff10 0px,#ffff0a 73px,#ffdb00 177px,#ffcf00 218px)"></i>
<i style="background:linear-gradient(90deg,#e4ff11 0px,#ffff0a 71px,#ffd900 180px,#ffce00 218px)"></i>
<i style="background:linear-gradient(90deg,#e5ff11 0px,#ffff0b 69px,#ffd800 183px,#ffce00 218px)"></i>
<i style="background:linear-gradient(90deg,#e5ff11 0px,#ffff0b 67px,#ffd600 186px,#ffcd00 218px)"></i>
<i style="background:linear-gradient(90deg,#e6ff12 0px,#ffff0c 66px,#ffd500 190px,#ffcd00 218px)"></i>
<i style="background:linear-gradient(90deg,#e7ff12 0px,#ffff0c 64px,#ffe405 138px,#ffcc00 218px)"></i>
<i style="background:linear-gradient(90deg,#e7ff13 0px,#ffff0d 62px,#ffe405 137px,#ffcb00 218px)"></i>
<i style="background:linear-gradient(90deg,#e8ff13 0px,#ffff0d 60px,#ffe406 136px,#ffcb00 218px)"></i>
<i style="background:linear-gradient(90deg,#e9ff13 0px,#ffff0e 59px,#ffe306 135px,#ffca00 218px)"></i>
<i style="background:linear-gradient(90deg,#e9ff14 0px,#ffff0e 57px,#ffe306 134px,#ffca00 218px)"></i>
<i style="background:linear-gradient(90deg,#eaff14 0px,#ffff0f 55px,#ffe307 133px,#ffc900 218px)"></i>
<i style="background:linear-gradient(90deg,#eaff14 0px,#ffff10 53px,#ffe307 132px,#ffc900 218px)"></i>
<i style="background:linear-gradient(90deg,#ebff15 0px,#ffff10 52px,#ffe208 131px,#ffc800 218px)"></i>
<i style="background:linear-gradient(90deg,#ecff15 0px,#ffff10 50px,#ffe208 130px,#ffc800 218px)"></i>
<i style="background:linear-gradient(90deg,#ecff15 0px,#ffff11 48px,#ffe208 129px,#ffc700 218px)"></i>
<i style="background:linear-gradient(90deg,#edff16 0px,#ffff12 46px,#ffe109 128px,#ffc601 218px)"></i>
<i style="background:linear-gradient(90deg,#eeff16 0px,#ffff12 44px,#ffe109 127px,#ffc601 218px)"></i></div></div>
<svg style="left:0;top:0" width="1920" height="1155">
<rect x="1784.4" y="631.9" width="14" height="14" fill="none" stroke="#fff" stroke-width="1.3"/>
<circle cx="1819.4" cy="651.7" r="4.5" fill="#c8c400" stroke="#151515" stroke-width="1.3"/>
<circle cx="1791.4" cy="670" r="4.3" fill="#c0bc50" stroke="#151515" stroke-width="1.3"/>
</svg>
<div class="a" style="left:187px;top:1096.4px;width:1733px;height:58.6px;background:linear-gradient(90deg,rgba(0,0,0,.2),rgba(0,0,0,.16) 40%,rgba(0,0,0,0) 55%,rgba(0,0,0,0) 75%,rgba(0,0,0,.2)),linear-gradient(#4a4a4a,#3a3a3a 40%,#262626)"></div>
<div class="a" style="left:188.8px;top:1096.9px;width:41.8px;height:56.9px;border-radius:5px;background:linear-gradient(#a8a8a8,#7c7c7c 45%,#5a5a5a)"></div>
<div class="a" style="left:202.6px;top:1098.6px;width:14px;height:14px;border-radius:7px;background:linear-gradient(#666,#a2a2a2)"></div>
<svg style="left:205.6px;top:1102.8px" width="9" height="5"><path d="M0 4.3h8.200l-4.100-4.300z" fill="#222"/></svg>
<div class="a" style="left:193.1px;top:1121.2px;width:33.1px;height:28.2px;box-sizing:border-box;border-radius:3.5px;background:#ffff00;border:1px solid #a8a800"></div>
<div class="a" style="left:236.2px;top:1096.9px;width:140.65px;height:56.9px;border-radius:5px;background:linear-gradient(#a8a8a8,#808080 40%,#5c5c5c)"></div>
<div class="a" style="left:241.2px;top:1101.8px;width:130.9px;height:33.5px;border-radius:3.5px;background:#c0c1a2;box-shadow:inset 0 0 1.5px 0.5px rgba(70,70,50,.6)"></div>
<span class="t" style="left:296.9px;top:1141.68px;font-size:9.64px;color:#2a2a2a;font-weight:700;transform:scaleX(1.002)">20%</span>
<div class="a" style="left:378.8px;top:1096.9px;width:140.65px;height:56.9px;border-radius:5px;background:linear-gradient(#a8a8a8,#808080 40%,#5c5c5c)"></div>
<div class="a" style="left:383.8px;top:1101.8px;width:130.9px;height:33.5px;border-radius:3.5px;background:#bfbf85;box-shadow:inset 0 0 1.5px 0.5px rgba(70,70,50,.6)"></div>
<span class="t" style="left:439.4px;top:1141.68px;font-size:9.64px;color:#2a2a2a;font-weight:700;transform:scaleX(1.002)">40%</span>
<div class="a" style="left:521.2px;top:1096.9px;width:140.65px;height:56.9px;border-radius:5px;background:linear-gradient(#a8a8a8,#808080 40%,#5c5c5c)"></div>
<div class="a" style="left:526.2px;top:1101.8px;width:130.9px;height:33.5px;border-radius:3.5px;background:#bfbf6a;box-shadow:inset 0 0 1.5px 0.5px rgba(70,70,50,.6)"></div>
<span class="t" style="left:581.9px;top:1141.68px;font-size:9.64px;color:#2a2a2a;font-weight:700;transform:scaleX(1.002)">60%</span>
<div class="a" style="left:663.8px;top:1096.9px;width:140.65px;height:56.9px;border-radius:5px;background:linear-gradient(#a8a8a8,#808080 40%,#5c5c5c)"></div>
<div class="a" style="left:668.8px;top:1101.8px;width:130.9px;height:33.5px;border-radius:3.5px;background:#c1bd44;box-shadow:inset 0 0 1.5px 0.5px rgba(70,70,50,.6)"></div>
<span class="t" style="left:724.4px;top:1141.68px;font-size:9.64px;color:#2a2a2a;font-weight:700;transform:scaleX(1.002)">80%</span>
<div class="a" style="left:806.2px;top:1096.9px;width:140.65px;height:56.9px;border-radius:5px;background:linear-gradient(#1b1b1b,#262626 40%,#343434)"></div>
<div class="a" style="left:811.2px;top:1101.8px;width:130.9px;height:33.5px;border-radius:3.5px;background:#c3c000;box-shadow:inset 0 0 1.5px 0.5px rgba(60,60,0,.55)"></div>
<span class="t" style="left:863.8px;top:1141.68px;font-size:9.64px;color:#fff;font-weight:700;transform:scaleX(1.031)">100%</span>
<div class="a" style="left:1617.2px;top:1096.7px;width:45px;height:17.6px;border-radius:5px 5px 0 0;background:linear-gradient(#9c9c9c,#7e7e7e 50%,#666)"></div>
<div class="a" style="left:1633px;top:1098.5px;width:14px;height:14px;border-radius:7px;background:linear-gradient(#666,#999)"></div>
<svg style="left:1636px;top:1102.5px" width="8" height="5"><path d="M0 4.5h8l-4-4.5z" fill="#111"/></svg>
<div class="a" style="left:1617.2px;top:1115px;width:45px;height:38.7px;border-radius:0 0 0 5px;background:linear-gradient(#8e8e8e,#707070 50%,#606060)"></div>
<div class="a" style="left:1625px;top:1120px;width:28.5px;height:28px;box-sizing:border-box;border:2px solid #1c1c1c;border-radius:4px;background:linear-gradient(#b4b4b4,#a6a6a6 48%,#8e8e8e 52%,#8a8a8a)"></div>
<div class="a" style="left:1633.3px;top:1128px;width:13px;height:12.8px;background:#000"></div>
<div class="a" style="left:1662.5px;top:1096.7px;width:42.799999999999955px;height:28px;background:linear-gradient(#9c9c9c,#7e7e7e 50%,#666)"></div>
<div class="a" style="left:1706.3px;top:1096.7px;width:41.5px;height:28px;background:linear-gradient(#9c9c9c,#7e7e7e 50%,#666)"></div>
<div class="a" style="left:1748.8px;top:1096.7px;width:41.799999999999955px;height:28px;background:linear-gradient(#9c9c9c,#7e7e7e 50%,#666)"></div>
<div class="a" style="left:1791.6px;top:1096.7px;width:41.200000000000045px;height:28px;background:linear-gradient(#9c9c9c,#7e7e7e 50%,#666)"></div>
<div class="a" style="left:1833.8px;top:1096.7px;width:40.700000000000045px;height:28px;background:linear-gradient(#9c9c9c,#7e7e7e 50%,#666)"></div>
<div class="a" style="left:1875.5px;top:1096.7px;width:44.5px;height:28px;background:linear-gradient(#3c3c3c,#303030)"></div>
<div class="a" style="left:1888px;top:1101.3px;width:19px;height:19px;border-radius:10px;background:linear-gradient(#2c2c2c,#3a3a3a)"></div>
<div class="a" style="left:1675.0px;top:1101.3px;width:19px;height:19px;border-radius:10px;background:linear-gradient(#707070,#a4a4a4)"></div>
<div class="a" style="left:1718.0px;top:1101.3px;width:19px;height:19px;border-radius:10px;background:linear-gradient(#707070,#a4a4a4)"></div>
<div class="a" style="left:1760.5px;top:1101.3px;width:19px;height:19px;border-radius:10px;background:linear-gradient(#707070,#a4a4a4)"></div>
<div class="a" style="left:1802.5px;top:1101.3px;width:19px;height:19px;border-radius:10px;background:linear-gradient(#707070,#a4a4a4)"></div>
<div class="a" style="left:1844.7px;top:1101.3px;width:19px;height:19px;border-radius:10px;background:linear-gradient(#707070,#a4a4a4)"></div>
<div class="a" style="left:1681.0px;top:1107.3px;width:7px;height:7px;background:#2a2a2a"></div>
<svg style="left:1724.0px;top:1106px" width="9" height="10"><path d="M0 0v9.5l8.5-4.7z" fill="#222"/></svg>
<svg style="left:1764px;top:1105.3px" width="12" height="11" fill="none" stroke="#333" stroke-width="1.5"><path d="M3.2 0.8H1v9.4h2.2M8.8 0.8H11v9.4H8.8"/><path d="M3.8 5.5h4.4" stroke-dasharray="1.2 0.9" stroke-width="1.2"/></svg>
<svg style="left:1805px;top:1107px" width="14" height="8" fill="none" stroke="#333" stroke-width="1.4"><path d="M7 4C5.8 1.8 4.6 1 3.4 1a2.7 2.7 0 0 0 0 5.6C4.6 6.6 5.8 5.8 7 4c1.2-2.2 2.4-3 3.6-3a2.7 2.7 0 0 1 0 5.6C9.400 6.6 8.200 5.800 7 4z"/></svg>
<svg style="left:1848.2px;top:1104.8px" width="12" height="12" fill="none" stroke="#333" stroke-width="1.6"><path d="M1.6 5.2A4.5 4.5 0 0 1 9.6 3.2M10.400 6.800A4.500 4.500 0 0 1 2.400 8.800"/><path d="M10.8 0.6v3.2H7.600z M1.200 11.400V8.200H4.400z" fill="#333" stroke="none"/></svg>
<div class="a" style="left:1662.5px;top:1125.8px;width:128px;height:27.9px;background:linear-gradient(#a6a6a6,#868686 50%,#6a6a6a)"></div>
<div class="a" style="left:1791.6px;top:1125.8px;width:126px;height:27.9px;border-radius:0 5px 5px 0;background:linear-gradient(#a6a6a6,#868686 50%,#6a6a6a)"></div>
<div class="a" style="left:1682.7px;top:1130.5px;width:19px;height:19px;border-radius:10px;background:linear-gradient(#7a7a7a,#a8a8a8)"></div>
<div class="a" style="left:1882.5px;top:1130.5px;width:19px;height:19px;border-radius:10px;background:linear-gradient(#7a7a7a,#a8a8a8)"></div>
<svg style="left:1687px;top:1135.5px" width="10" height="9" fill="none" stroke="#444" stroke-width="1.5"><path d="M4.500 0.500L1 4.500l3.500 4M9 0.500L5.500 4.500l3.500 4"/></svg>
<svg style="left:1887px;top:1135.5px" width="10" height="9" fill="none" stroke="#444" stroke-width="1.5"><path d="M1 0.500l3.500 4L1 8.500M5.500 0.500l3.500 4l-3.500 4"/></svg>
<span class="t" style="left:1717.4px;top:1130.66px;font-size:19.27px;color:#2e2e2e;transform:scaleX(1.088);-webkit-text-stroke:0.45px #2e2e2e">Back</span>
<span class="t" style="left:1817.7px;top:1130.66px;font-size:19.27px;color:#2e2e2e;transform:scaleX(1.196);-webkit-text-stroke:0.45px #2e2e2e">Next</span>
<div class="a" style="left:1914px;top:55px;width:6px;height:1041px;background:linear-gradient(90deg,rgba(0,0,0,0),rgba(0,0,0,.18) 40%,rgba(0,0,0,.5))"></div>
</body></html>
